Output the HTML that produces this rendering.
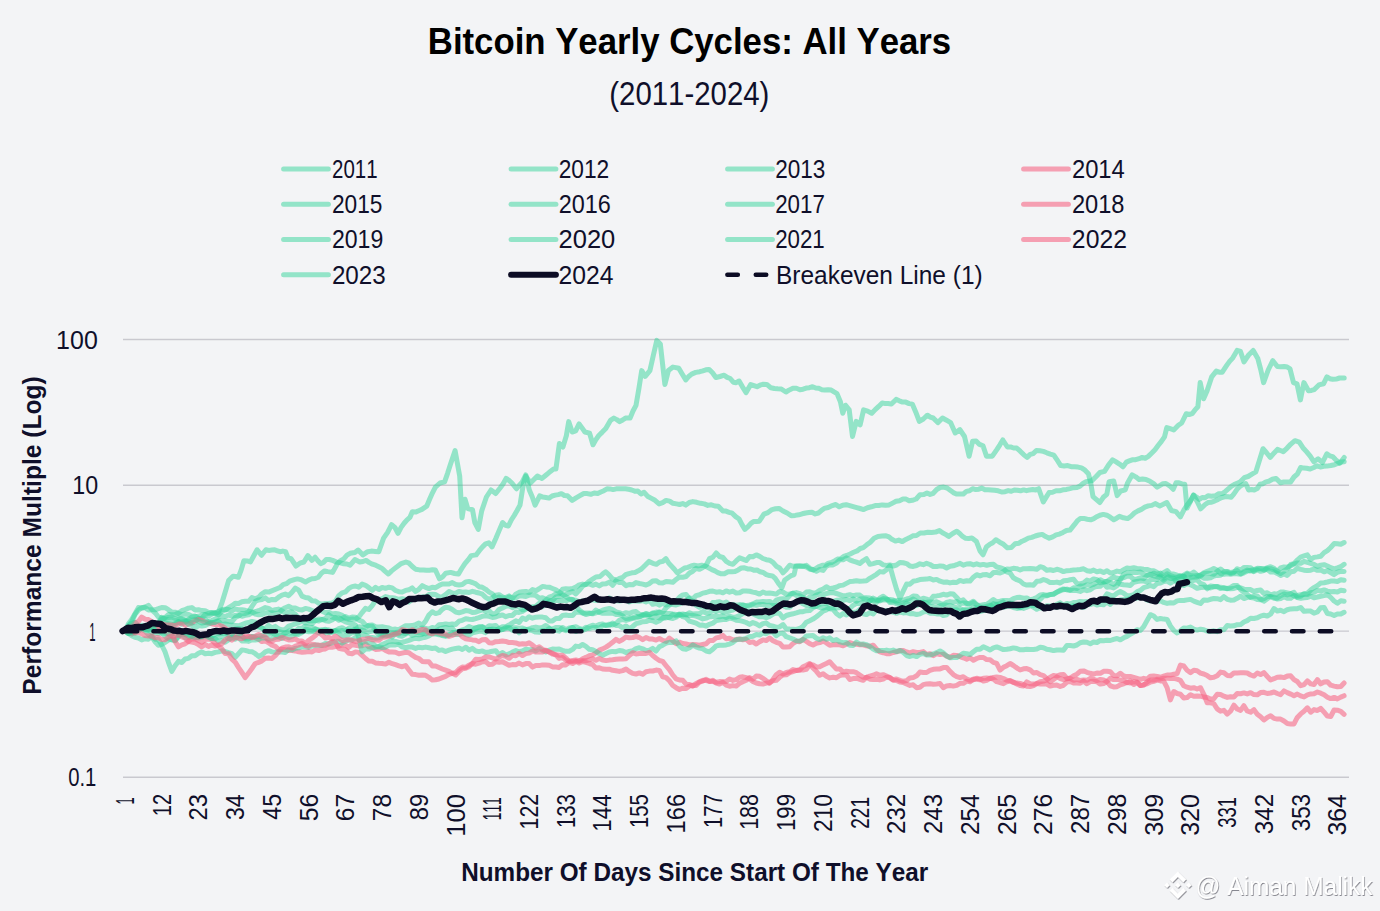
<!DOCTYPE html>
<html><head><meta charset="utf-8"><title>Bitcoin Yearly Cycles</title>
<style>html,body{margin:0;padding:0;background:#f3f4f6;}svg{display:block;font-family:"Liberation Sans",sans-serif;font-kerning:none;font-feature-settings:"kern" 0;}</style>
</head><body>
<svg width="1380" height="911" viewBox="0 0 1380 911">
<rect width="1380" height="911" fill="#f3f4f6"/>
<line x1="123" y1="339.5" x2="1349" y2="339.5" stroke="#c9c9cf" stroke-width="1.4"/><line x1="123" y1="485.3" x2="1349" y2="485.3" stroke="#c9c9cf" stroke-width="1.4"/><line x1="123" y1="631.1" x2="1349" y2="631.1" stroke="#c9c9cf" stroke-width="1.4"/><line x1="123" y1="777.2" x2="1349" y2="777.2" stroke="#c9c9cf" stroke-width="1.4"/>
<polyline points="125.0,631.1 128.3,629.3 131.7,630.0 135.0,631.8 138.4,631.1 141.7,628.3 145.0,627.6 148.4,627.7 151.7,628.8 155.1,626.2 158.4,623.2 161.7,623.3 165.1,623.0 168.4,624.5 171.8,625.1 175.1,623.4 178.4,621.5 181.8,624.2 185.1,622.3 188.5,619.5 191.8,617.1 195.1,616.7 198.5,616.3 201.8,615.2 205.2,614.5 208.5,613.4 211.8,613.0 215.2,613.3 218.5,612.1 222.0,602.5 225.3,591.7 228.6,580.6 233.0,576.2 235.7,576.5 238.4,577.3 241.2,569.9 243.9,560.8 247.2,560.9 250.5,561.9 253.8,555.8 257.1,549.8 261.5,555.3 265.9,549.8 268.8,550.4 271.8,550.1 274.7,549.8 277.4,550.8 280.0,551.7 282.8,551.1 285.6,551.7 288.0,558.0 291.2,558.8 296.0,566.0 299.9,563.2 303.9,562.0 307.9,555.6 311.9,560.4 315.1,557.2 317.9,560.7 320.6,563.6 323.4,562.5 326.2,559.6 329.4,559.5 332.6,560.4 336.6,562.1 340.6,562.8 343.8,563.8 346.9,564.0 350.1,565.2 354.9,559.6 359.7,562.0 362.9,561.5 366.1,560.4 369.3,562.6 372.4,564.2 375.6,565.2 378.8,566.7 382.0,568.4 385.2,571.4 388.4,574.0 391.6,570.9 394.8,568.4 398.0,566.0 401.2,563.6 405.9,562.0 409.1,563.2 412.3,566.5 415.5,569.2 419.5,569.9 423.5,570.0 426.5,570.3 429.4,570.2 432.4,569.8 435.4,570.0 439.4,578.8 442.6,576.8 445.8,573.2 450.6,572.4 454.6,573.5 458.5,574.0 461.7,568.5 464.9,563.6 468.1,559.9 471.3,555.6 476.1,554.9 479.3,550.7 482.5,546.9 485.6,543.9 488.8,542.9 492.0,546.9 495.7,538.7 499.1,530.6 502.6,522.5 505.5,525.3 508.4,526.0 511.3,520.0 514.2,515.5 517.1,510.5 520.0,505.1 523.5,483.0 525.8,476.1 530.4,483.0 533.9,479.5 537.4,476.1 542.0,478.4 545.5,475.5 549.0,472.6 553.6,469.1 555.9,469.1 559.4,443.6 562.9,447.1 566.4,435.5 568.7,421.6 572.2,432.0 575.7,430.9 579.1,423.9 582.0,427.9 584.9,432.0 589.6,433.2 593.0,444.8 595.9,439.6 598.8,435.5 602.3,432.1 605.8,428.5 610.4,420.4 613.9,418.1 616.8,419.6 619.7,421.6 622.6,420.0 625.5,418.1 630.1,418.1 633.0,411.0 636.0,405.4 638.9,388.5 641.7,370.6 645.2,376.4 649.9,370.6 653.3,355.5 656.8,340.4 660.3,343.9 664.9,384.5 668.4,370.6 673.0,367.1 675.9,367.6 678.8,368.3 682.3,374.2 685.8,379.9 688.7,376.5 691.6,374.1 695.7,372.4 699.7,371.7 702.8,370.8 705.9,369.8 709.0,369.4 712.5,372.8 715.9,377.5 720.0,376.5 724.1,375.2 727.2,377.4 730.2,378.5 733.3,382.2 736.2,382.7 739.1,381.0 742.6,387.1 746.1,392.6 750.7,384.5 753.9,385.6 757.0,386.7 759.9,385.2 762.8,384.3 766.8,384.4 770.9,387.8 774.4,388.5 777.8,388.8 781.3,389.0 785.9,392.0 789.4,389.9 792.9,388.3 796.4,388.3 799.9,389.7 803.1,389.2 806.2,388.1 809.4,387.7 812.6,386.7 815.7,388.0 818.8,388.3 821.9,389.7 825.0,390.0 828.1,389.7 831.2,390.1 834.1,391.9 837.0,393.6 840.4,401.7 842.8,413.3 845.5,405.2 849.2,409.9 852.5,436.5 856.2,421.4 860.1,424.9 863.6,409.9 867.7,411.1 871.7,413.3 875.2,409.6 878.7,406.4 882.2,402.9 885.3,403.6 888.3,403.5 891.4,404.1 896.1,399.4 899.3,400.8 902.6,402.1 905.8,402.1 909.1,403.6 912.3,404.1 915.8,412.2 919.3,421.4 923.3,419.0 927.4,415.2 930.3,417.1 933.2,418.0 937.8,422.6 942.5,418.0 946.5,420.2 950.6,422.6 955.2,433.0 959.9,429.6 964.5,436.5 969.1,456.2 972.6,441.2 976.1,441.0 979.5,444.4 983.0,445.8 986.5,456.2 989.4,456.2 992.3,456.2 997.0,449.3 999.9,444.8 1002.8,440.0 1007.4,447.0 1010.5,446.9 1013.6,448.0 1016.7,448.1 1020.2,451.2 1023.6,454.6 1027.1,457.4 1030.2,454.4 1033.3,453.6 1036.4,450.4 1039.9,450.7 1043.3,451.4 1046.8,452.8 1050.3,454.1 1053.8,455.2 1057.2,460.2 1060.7,465.6 1064.2,465.9 1067.7,465.6 1071.2,466.7 1074.6,466.8 1078.0,467.1 1081.5,467.9 1085.0,470.2 1088.4,473.7 1090.7,482.9 1093.0,496.7 1096.5,499.7 1099.9,502.5 1103.3,497.3 1106.8,494.4 1109.1,481.7 1113.7,481.0 1117.2,495.6 1120.7,491.0 1125.3,489.8 1127.6,482.9 1132.2,474.8 1135.7,476.8 1139.1,479.4 1142.5,479.0 1146.0,479.4 1150.0,481.3 1153.6,483.6 1157.2,487.1 1160.1,485.4 1163.0,483.8 1165.9,483.5 1169.6,485.8 1173.2,489.3 1176.1,482.8 1179.0,482.8 1181.9,483.9 1184.8,484.2 1187.0,508.1 1190.2,501.9 1193.5,495.1 1197.1,501.5 1200.7,508.8 1205.1,504.5 1208.0,502.6 1210.9,502.3 1214.5,501.1 1218.1,499.4 1221.8,497.5 1225.4,496.5 1228.3,496.8 1231.2,497.2 1234.1,493.6 1237.0,489.3 1239.9,486.4 1242.8,484.6 1245.7,483.5 1248.6,490.0 1251.5,489.5 1254.3,490.0 1257.2,488.6 1260.1,484.2 1263.0,483.7 1265.9,481.9 1268.8,481.3 1272.4,479.3 1276.1,478.4 1280.4,482.8 1283.8,482.0 1287.2,481.9 1290.6,482.0 1294.0,477.0 1297.3,474.1 1300.7,467.5 1303.6,468.1 1306.5,468.3 1310.2,469.0 1313.8,467.5 1317.0,465.8 1320.3,467.0 1323.5,466.2 1326.8,466.1 1330.7,465.5 1334.5,464.7 1338.4,463.2 1341.3,461.9 1344.2,461.7" fill="none" stroke="rgba(52,211,153,0.5)" stroke-width="5" stroke-linejoin="round" stroke-linecap="round"/><polyline points="125.0,631.1 128.3,624.0 131.7,619.5 135.0,613.7 138.4,607.6 141.7,608.0 145.0,607.0 148.4,605.4 151.7,609.4 155.1,609.8 158.4,608.7 161.7,607.5 165.1,607.7 168.4,609.7 171.8,612.1 175.1,612.2 178.4,613.5 181.8,614.6 185.1,614.0 188.5,614.5 191.8,616.3 195.1,616.1 198.5,618.2 201.8,619.1 205.2,619.5 208.5,622.3 211.8,623.1 215.2,621.9 218.5,621.4 221.9,624.7 225.2,623.9 228.5,624.6 231.9,625.1 235.2,625.4 238.6,625.8 241.9,624.6 245.2,623.3 248.6,622.5 251.9,621.4 255.3,622.2 258.6,627.0 261.9,627.8 265.3,630.9 268.6,631.5 272.0,632.6 275.3,634.5 278.6,636.9 282.0,638.4 285.3,636.4 288.7,637.7 292.0,636.3 295.3,634.3 298.7,634.4 302.0,632.5 305.4,629.2 308.7,630.0 312.0,630.6 315.4,629.2 318.7,630.5 322.1,631.1 325.4,629.2 328.7,631.9 332.1,632.3 335.4,630.4 338.8,631.1 342.1,630.5 345.4,631.2 348.8,628.2 352.1,629.0 355.5,629.7 358.8,630.0 362.1,630.1 365.5,631.4 368.8,631.7 372.2,631.1 375.5,630.1 378.8,632.2 382.2,634.1 385.5,634.9 388.9,635.5 392.2,637.0 395.5,633.3 398.9,634.1 402.2,630.4 405.6,631.1 408.9,632.6 412.2,635.4 415.6,634.3 418.9,634.8 422.3,634.4 425.6,630.5 428.9,631.5 432.3,631.2 435.6,631.0 439.0,629.2 442.3,628.2 445.6,627.4 449.0,628.5 452.3,628.1 455.7,632.8 459.0,631.2 462.3,629.8 465.7,628.8 469.0,626.5 472.4,628.0 475.7,628.9 479.0,626.6 482.4,626.6 485.7,628.3 489.1,625.8 492.4,625.9 495.7,625.4 499.1,629.0 502.4,629.5 505.8,628.6 509.1,627.5 512.4,630.3 515.8,629.4 519.1,632.9 522.5,630.1 525.8,629.6 529.1,629.0 532.5,627.7 535.8,627.1 539.2,628.0 542.5,627.4 545.8,625.5 549.2,628.1 552.5,630.9 555.9,630.3 559.2,631.2 562.5,627.5 565.9,629.6 569.2,627.9 572.6,627.4 575.9,631.4 579.2,629.8 582.6,630.3 585.9,629.1 589.3,626.6 592.6,625.2 595.9,626.1 599.3,624.5 602.6,624.0 606.0,625.6 609.3,625.3 612.6,623.1 616.0,625.5 619.3,625.6 622.7,627.8 626.0,626.0 629.3,628.7 632.7,626.5 636.0,623.6 639.4,622.8 642.7,621.7 646.0,621.6 649.4,620.2 652.7,620.7 656.1,622.3 659.4,620.8 662.7,618.0 666.1,616.9 669.4,617.7 672.8,618.5 676.1,617.2 679.4,614.8 682.8,614.0 686.1,614.7 689.5,612.8 692.8,614.1 696.1,613.7 699.5,613.4 702.8,611.6 706.2,613.0 709.5,612.9 712.8,610.2 716.2,611.3 719.5,610.4 722.9,611.9 726.2,611.9 729.5,610.7 732.9,610.1 736.2,608.4 739.6,606.1 742.9,605.3 746.2,605.7 749.6,604.9 752.9,603.9 756.3,602.1 759.6,602.0 762.9,601.4 766.3,601.8 769.6,601.4 773.0,603.8 776.3,600.2 779.6,599.0 783.0,598.8 786.3,599.2 789.7,595.6 793.0,593.1 796.3,592.6 799.7,593.7 803.0,595.0 806.4,592.0 809.7,591.7 813.0,593.1 816.4,592.6 819.7,590.4 823.1,589.1 826.4,586.8 829.7,588.6 833.1,588.0 836.4,587.2 839.8,585.6 843.1,585.1 846.4,583.4 849.8,581.6 853.1,581.3 856.5,580.7 859.8,581.2 863.1,581.1 866.5,580.7 869.8,578.3 873.2,576.3 876.5,574.3 879.8,571.6 883.2,572.1 886.5,569.8 889.9,565.9 893.2,577.9 896.5,589.1 899.9,598.2 903.2,591.1 906.6,584.1 909.9,584.2 913.2,581.3 916.6,580.6 919.9,579.6 923.3,579.3 926.6,579.1 929.9,578.5 933.3,580.0 936.6,579.4 940.0,581.2 943.3,582.2 946.6,581.9 950.0,582.9 953.3,582.3 956.7,582.5 960.0,580.4 963.3,581.5 966.7,580.8 970.0,581.1 973.4,577.2 976.7,574.7 980.0,575.9 983.4,574.7 986.7,574.6 990.1,575.8 993.4,572.6 996.7,572.5 1000.1,573.0 1003.4,571.6 1006.8,569.1 1010.1,569.2 1013.4,568.3 1016.8,568.7 1020.1,570.0 1023.5,568.7 1026.8,568.8 1030.1,568.4 1033.5,568.8 1036.8,569.3 1040.2,566.7 1043.5,567.7 1046.8,570.3 1050.2,569.7 1053.5,570.5 1056.9,569.3 1060.2,570.1 1063.5,571.6 1066.9,570.7 1070.2,570.4 1073.6,570.0 1076.9,569.8 1080.2,569.5 1083.6,568.8 1086.9,570.7 1090.3,571.3 1093.6,570.1 1096.9,571.8 1100.3,571.0 1103.6,572.6 1107.0,570.7 1110.3,573.1 1113.6,572.5 1117.0,571.1 1120.3,571.8 1123.7,569.7 1127.0,568.0 1130.3,568.4 1133.7,567.7 1137.0,568.4 1140.4,568.7 1143.7,569.2 1147.0,569.4 1150.4,570.6 1153.7,570.7 1157.1,572.5 1160.4,574.9 1163.7,572.6 1167.1,570.6 1170.4,574.0 1173.8,574.1 1177.1,575.2 1180.4,575.9 1183.8,576.0 1187.1,579.1 1190.5,577.6 1193.8,577.3 1197.1,577.0 1200.5,574.8 1203.8,573.6 1207.2,573.3 1210.5,573.5 1213.8,574.3 1217.2,571.3 1220.5,569.0 1223.9,571.8 1227.2,571.4 1230.5,572.6 1233.9,571.8 1237.2,570.5 1240.6,573.8 1243.9,571.7 1247.2,570.1 1250.6,571.0 1253.9,570.9 1257.3,568.2 1260.6,568.5 1263.9,569.9 1267.3,567.6 1270.6,566.8 1274.0,568.3 1277.3,571.5 1280.6,567.9 1284.0,567.0 1287.3,567.2 1290.7,565.9 1294.0,564.0 1297.3,562.9 1300.7,563.3 1304.0,561.3 1307.4,562.3 1310.7,563.3 1314.0,564.3 1317.4,566.4 1320.7,565.2 1324.1,564.7 1327.4,566.0 1330.7,567.7 1334.1,568.9 1337.4,567.9 1340.8,566.7 1344.1,564.3" fill="none" stroke="rgba(52,211,153,0.5)" stroke-width="5" stroke-linejoin="round" stroke-linecap="round"/><polyline points="125.0,631.1 128.3,630.6 131.7,632.7 135.0,631.1 138.4,627.9 141.7,628.0 145.0,628.7 148.4,628.9 151.7,629.5 155.1,629.0 158.4,627.7 161.7,626.2 165.1,625.1 168.4,623.7 171.8,624.4 175.1,624.7 178.4,621.9 181.8,622.2 185.1,621.0 188.5,621.6 191.8,622.8 195.1,622.4 198.5,618.4 201.8,618.2 205.2,614.5 208.5,616.1 211.8,614.1 215.2,612.9 218.5,614.9 221.9,611.1 225.2,610.2 228.5,607.6 231.9,605.7 235.2,603.3 238.6,603.4 241.9,601.8 245.2,601.3 248.6,601.3 251.9,597.6 255.3,598.8 258.6,597.4 261.9,593.8 265.3,591.7 268.6,592.1 280.0,587.5 283.2,584.7 286.4,583.7 289.6,581.2 294.3,579.6 297.5,578.9 300.7,579.6 305.5,582.0 308.7,580.1 311.9,578.8 315.1,578.5 318.3,577.2 321.4,573.2 324.6,570.9 327.8,571.6 332.6,572.4 337.4,563.6 340.6,560.7 343.8,558.8 347.0,555.1 350.1,553.3 354.9,552.5 358.1,550.1 362.9,554.9 367.7,551.7 371.4,551.1 375.1,551.4 378.8,551.7 383.6,538.1 387.6,532.4 391.6,524.6 394.8,527.3 398.0,533.3 401.1,527.4 404.3,523.0 407.1,519.8 409.9,517.4 412.3,511.8 415.5,512.1 418.7,510.7 421.9,509.4 426.7,506.2 429.6,499.3 432.5,492.8 435.4,487.1 440.0,483.0 444.6,481.9 447.5,473.6 450.4,464.5 455.1,450.6 459.7,476.1 462.0,517.8 465.0,499.3 467.8,508.6 472.5,509.7 474.8,522.5 478.3,529.4 481.7,510.9 486.4,497.0 491.0,490.0 495.7,493.5 500.3,487.7 503.2,483.7 506.1,478.4 509.0,480.4 511.9,483.0 516.5,488.8 519.4,485.1 522.3,481.9 525.8,474.9 529.3,490.0 532.2,496.7 535.1,505.1 539.7,495.8 542.8,497.1 545.9,497.5 549.0,498.1 552.1,496.0 555.2,495.1 558.3,494.6 561.4,493.7 564.4,495.5 567.5,495.8 572.2,500.4 576.1,497.9 579.9,495.7 583.8,493.5 587.3,493.6 590.8,494.3 594.2,493.0 597.7,493.5 600.8,492.0 603.9,490.7 607.0,488.8 610.1,488.9 613.1,489.6 616.2,488.8 619.3,488.7 622.4,488.8 625.5,488.8 628.6,489.3 631.7,490.0 634.8,491.2 637.9,491.1 641.0,494.0 644.1,492.3 647.5,496.2 651.0,498.1 655.0,500.3 659.1,503.9 662.6,502.7 666.1,500.4 669.6,501.1 673.0,503.3 676.5,503.9 679.6,504.5 682.7,503.6 685.8,505.1 689.3,502.5 692.8,501.6 696.6,502.3 700.5,503.3 704.3,503.9 707.8,505.4 711.3,504.8 714.8,506.0 718.3,506.2 722.9,510.9 726.0,511.1 729.1,512.3 732.2,513.2 735.7,516.6 739.1,519.0 742.0,524.6 744.9,529.4 747.8,526.9 750.7,523.6 753.6,521.4 756.4,521.4 759.3,521.2 763.9,514.2 768.0,512.6 772.0,509.6 775.5,508.8 779.0,508.4 783.0,511.0 787.1,513.0 791.2,515.7 795.2,515.4 798.7,514.8 802.2,513.8 805.7,513.0 808.9,512.6 812.0,512.3 815.2,513.9 818.4,513.0 821.3,510.6 824.2,508.4 828.2,507.5 832.3,505.6 835.8,504.5 839.3,506.8 842.7,505.2 846.2,504.7 849.7,505.6 853.2,506.6 856.7,507.6 860.1,508.5 863.6,509.6 867.5,507.7 871.3,506.8 875.2,505.6 878.7,505.5 882.2,504.9 885.6,505.3 889.1,504.9 892.6,503.1 896.0,501.3 899.5,500.7 903.0,499.1 906.1,499.1 909.2,500.8 912.3,500.3 916.2,499.0 920.0,494.7 923.9,494.5 927.0,493.0 930.1,494.4 933.2,493.3 936.7,489.5 940.1,487.5 943.6,487.1 947.1,488.0 950.2,490.3 953.3,492.6 956.4,494.0 959.8,494.1 963.3,494.0 966.4,491.4 969.5,490.8 972.6,488.7 975.7,489.6 978.8,489.2 981.9,488.1 985.0,489.8 988.1,489.8 991.2,489.9 994.7,490.3 998.2,490.8 1001.6,492.0 1005.1,491.7 1008.2,490.6 1011.3,491.3 1014.4,490.0 1017.4,490.2 1020.5,490.8 1023.6,489.9 1026.6,490.7 1029.6,489.9 1032.7,489.5 1035.7,489.9 1038.7,488.7 1043.3,501.9 1046.2,497.1 1049.1,492.6 1052.6,492.2 1056.0,490.8 1059.5,490.8 1063.0,489.8 1066.5,489.4 1070.0,488.6 1073.4,487.7 1076.9,487.5 1080.0,486.1 1083.0,483.5 1086.1,481.7 1089.0,481.1 1091.9,480.6 1095.9,476.7 1099.9,472.5 1104.5,471.4 1108.5,465.1 1112.6,459.8 1116.1,461.9 1119.5,464.1 1123.0,466.8 1126.4,462.1 1129.3,460.9 1132.2,459.8 1135.7,459.7 1139.1,458.7 1142.2,457.4 1145.2,458.3 1148.3,456.4 1151.8,453.0 1155.2,449.5 1158.3,445.3 1161.4,441.4 1164.5,436.8 1166.8,427.6 1170.2,428.7 1173.7,429.9 1178.3,425.3 1181.7,423.0 1186.3,413.7 1189.2,414.5 1192.1,413.7 1195.0,409.9 1197.9,406.8 1200.2,382.6 1203.6,398.8 1207.1,390.7 1211.7,376.9 1216.3,371.1 1219.2,372.2 1222.1,372.3 1226.7,365.4 1229.6,361.4 1232.4,358.4 1237.1,350.4 1240.5,351.5 1244.0,361.9 1248.6,355.0 1253.2,350.4 1257.8,358.4 1260.7,369.5 1263.6,382.6 1268.2,370.0 1272.8,360.7 1277.4,366.5 1280.8,366.7 1284.3,366.5 1287.2,367.0 1290.0,368.8 1293.5,382.6 1297.0,383.8 1300.4,399.9 1303.9,382.6 1308.5,390.7 1311.4,390.4 1314.3,389.6 1318.9,384.9 1323.5,383.8 1326.9,376.9 1329.8,378.7 1332.7,379.2 1336.2,379.1 1339.6,378.0 1344.2,378.0" fill="none" stroke="rgba(52,211,153,0.5)" stroke-width="5" stroke-linejoin="round" stroke-linecap="round"/><polyline points="125.0,631.1 128.3,632.7 131.7,634.0 135.0,631.4 138.4,628.0 141.7,627.7 145.0,628.8 148.4,628.4 151.7,626.0 155.1,625.1 158.4,626.7 161.7,623.8 165.1,624.7 168.4,624.9 171.8,625.0 175.1,625.5 178.4,623.9 181.8,623.0 185.1,625.2 188.5,623.9 191.8,623.0 195.1,620.5 198.5,619.6 201.8,620.5 205.2,622.3 208.5,623.1 211.8,623.8 215.2,624.5 218.5,624.8 221.9,626.2 225.2,628.2 228.5,632.2 231.9,634.4 235.2,634.1 238.6,634.3 241.9,636.2 245.2,637.8 248.6,636.8 251.9,636.5 255.3,637.7 258.6,639.3 261.9,641.6 265.3,641.1 268.6,642.7 272.0,645.2 275.3,646.3 278.6,649.6 282.0,649.3 285.3,649.8 288.7,650.6 292.0,650.5 295.3,650.9 298.7,651.8 302.0,652.2 305.4,651.9 308.7,651.6 312.0,651.9 315.4,649.9 318.7,650.6 322.1,649.3 325.4,648.9 328.7,647.1 332.1,647.2 335.4,646.5 338.8,646.1 342.1,644.8 345.4,645.0 348.8,647.4 352.1,644.5 355.5,645.2 358.8,645.9 362.1,645.7 365.5,644.0 368.8,646.9 372.2,647.5 375.5,649.4 378.8,649.2 382.2,648.4 385.5,650.4 388.9,651.9 392.2,652.0 395.5,652.2 398.9,653.8 402.2,653.1 405.6,652.3 408.9,652.8 412.2,655.2 415.6,657.4 418.9,658.5 422.3,661.4 425.6,661.8 428.9,661.7 432.3,666.0 435.6,665.9 439.0,667.5 442.3,669.0 445.6,670.1 449.0,671.3 452.3,673.3 455.7,675.0 459.0,671.5 462.3,668.8 465.7,668.3 469.0,666.8 472.4,663.5 475.7,664.2 479.0,663.2 482.4,661.8 485.7,661.6 489.1,664.6 492.4,664.3 495.7,661.8 499.1,662.2 502.4,661.7 505.8,663.5 509.1,665.3 512.4,664.6 515.8,664.7 519.1,663.1 522.5,664.9 525.8,663.6 529.1,663.5 532.5,667.1 535.8,665.5 539.2,665.6 542.5,664.9 545.8,665.0 549.2,665.2 552.5,666.9 555.9,667.0 559.2,667.4 562.5,664.8 565.9,664.9 569.2,662.2 572.6,663.5 575.9,661.6 579.2,661.3 582.6,658.8 585.9,657.4 589.3,655.7 592.6,654.8 595.9,652.9 599.3,650.2 602.6,648.9 606.0,647.1 609.3,644.9 612.6,642.3 616.0,639.3 619.3,641.4 622.7,639.5 626.0,637.1 629.3,637.8 632.7,637.5 636.0,636.5 639.4,637.5 642.7,639.6 646.0,637.5 649.4,639.0 652.7,639.1 656.1,640.1 659.4,638.5 662.7,640.4 666.1,641.4 669.4,638.1 672.8,640.8 676.1,643.7 679.4,642.2 682.8,643.5 686.1,644.0 689.5,645.0 692.8,644.5 696.1,644.8 699.5,645.3 702.8,644.5 706.2,643.7 709.5,640.4 712.8,640.6 716.2,637.9 719.5,637.3 722.9,635.4 726.2,638.8 729.5,638.2 732.9,639.9 736.2,639.5 739.6,639.0 742.9,639.7 746.2,639.3 749.6,642.5 752.9,641.9 756.3,644.0 759.6,641.7 762.9,639.9 766.3,640.5 769.6,638.0 773.0,640.7 776.3,642.3 779.6,643.3 783.0,647.0 786.3,647.0 789.7,646.7 793.0,643.5 796.3,641.3 799.7,641.7 803.0,639.4 806.4,641.4 809.7,643.6 813.0,645.0 816.4,643.2 819.7,642.6 823.1,641.1 826.4,642.9 829.7,645.2 833.1,644.7 836.4,644.6 839.8,644.8 843.1,645.8 846.4,644.2 849.8,642.6 853.1,643.6 856.5,644.3 859.8,644.8 863.1,644.8 866.5,645.8 869.8,646.4 873.2,645.2 876.5,649.1 879.8,651.9 883.2,652.7 886.5,653.7 889.9,653.7 893.2,652.5 896.5,651.8 899.9,650.6 903.2,650.5 906.6,652.0 909.9,652.9 913.2,651.7 916.6,652.4 919.9,652.4 923.3,651.6 926.6,654.4 929.9,653.7 933.3,655.7 936.6,653.6 940.0,654.6 943.3,654.1 946.6,656.2 950.0,657.4 953.3,655.3 956.7,655.4 960.0,656.6 963.3,657.8 966.7,659.2 970.0,657.8 973.4,660.3 976.7,658.5 980.0,657.4 983.4,657.5 986.7,659.6 990.1,659.8 993.4,662.4 996.7,663.4 1000.1,670.1 1003.4,667.3 1006.8,665.7 1010.1,663.5 1013.4,665.5 1016.8,667.9 1020.1,670.0 1023.5,668.8 1026.8,668.6 1030.1,669.8 1033.5,673.0 1036.8,672.5 1040.2,674.7 1043.5,675.6 1046.8,678.6 1050.2,681.7 1053.5,679.4 1056.9,676.9 1060.2,678.6 1063.5,679.6 1066.9,678.9 1070.2,678.0 1073.6,675.8 1076.9,674.2 1080.2,671.3 1083.6,670.9 1086.9,672.3 1090.3,673.3 1093.6,674.1 1096.9,673.0 1100.3,673.3 1103.6,671.3 1107.0,671.2 1110.3,671.7 1113.6,675.4 1117.0,675.8 1120.3,673.2 1123.7,675.9 1127.0,676.6 1130.3,676.4 1133.7,677.3 1137.0,678.3 1140.4,679.3 1143.7,678.3 1147.0,679.2 1150.4,676.2 1153.7,676.0 1157.1,676.5 1160.4,677.3 1163.7,676.2 1167.1,675.0 1170.4,675.1 1173.8,674.1 1177.1,673.6 1180.4,665.1 1183.8,666.0 1187.1,670.3 1190.5,672.6 1193.8,670.3 1197.1,670.8 1200.5,673.1 1203.8,674.0 1207.2,675.6 1210.5,677.8 1213.8,677.3 1217.2,675.7 1220.5,672.1 1223.9,672.8 1227.2,675.4 1230.5,675.8 1233.9,673.0 1237.2,672.9 1240.6,672.8 1243.9,672.7 1247.2,673.0 1250.6,675.0 1253.9,676.1 1257.3,673.0 1260.6,674.6 1263.9,672.6 1267.3,676.5 1270.6,680.0 1274.0,678.7 1277.3,677.2 1280.6,677.0 1284.0,677.6 1287.3,676.1 1290.7,675.8 1294.0,679.6 1297.3,681.5 1300.7,685.7 1304.0,684.6 1307.4,680.9 1310.7,683.9 1314.0,684.5 1317.4,679.6 1320.7,683.9 1324.1,682.0 1327.4,681.7 1330.7,685.2 1334.1,686.1 1337.4,686.8 1340.8,686.5 1344.1,683.0" fill="none" stroke="rgba(246,101,133,0.6)" stroke-width="5" stroke-linejoin="round" stroke-linecap="round"/><polyline points="125.0,631.1 128.3,633.5 131.7,635.7 135.0,637.3 138.4,638.0 141.7,639.9 145.0,638.7 148.4,639.2 151.7,636.3 155.1,639.2 158.4,639.5 161.7,645.0 165.1,651.9 168.4,662.1 171.8,671.3 175.1,665.7 178.4,661.4 181.8,662.5 185.1,659.0 188.5,658.4 191.8,655.7 195.1,655.8 198.5,653.3 201.8,651.9 205.2,653.8 208.5,653.3 211.8,653.7 215.2,652.4 218.5,651.9 221.9,650.8 225.2,651.5 228.5,652.7 231.9,653.7 235.2,657.3 238.6,653.6 241.9,649.9 245.2,650.4 248.6,651.4 251.9,651.7 255.3,653.7 258.6,656.4 261.9,654.8 265.3,651.8 268.6,650.7 272.0,651.9 275.3,652.4 278.6,651.8 282.0,652.1 285.3,652.4 288.7,649.3 292.0,649.9 295.3,648.4 298.7,647.9 302.0,646.9 305.4,646.8 308.7,647.3 312.0,645.9 315.4,645.1 318.7,645.5 322.1,645.2 325.4,643.4 328.7,644.0 332.1,642.6 335.4,641.4 338.8,641.2 342.1,643.2 345.4,641.2 348.8,640.0 352.1,639.7 355.5,637.8 358.8,639.4 362.1,642.8 365.5,641.3 368.8,642.7 372.2,642.9 375.5,646.1 378.8,646.8 382.2,647.6 385.5,647.2 388.9,645.2 392.2,644.8 395.5,644.9 398.9,644.4 402.2,646.9 405.6,647.7 408.9,647.0 412.2,647.1 415.6,648.4 418.9,647.2 422.3,647.7 425.6,647.1 428.9,647.8 432.3,648.5 435.6,647.9 439.0,650.4 442.3,649.9 445.6,651.5 449.0,650.2 452.3,649.1 455.7,648.5 459.0,648.0 462.3,649.5 465.7,647.2 469.0,650.2 472.4,648.4 475.7,651.0 479.0,651.6 482.4,650.9 485.7,652.5 489.1,651.9 492.4,651.2 495.7,650.7 499.1,654.8 502.4,652.5 505.8,655.1 509.1,653.9 512.4,652.1 515.8,650.6 519.1,652.0 522.5,651.0 525.8,649.2 529.1,649.7 532.5,649.6 535.8,650.9 539.2,648.5 542.5,650.4 545.8,651.9 549.2,650.2 552.5,649.1 555.9,649.3 559.2,649.0 562.5,650.3 565.9,651.3 569.2,651.3 572.6,649.4 575.9,646.1 579.2,646.6 582.6,644.5 585.9,646.4 589.3,649.3 592.6,649.7 595.9,651.4 599.3,653.6 602.6,655.2 606.0,653.5 609.3,652.0 612.6,651.4 616.0,651.7 619.3,650.5 622.7,651.0 626.0,652.6 629.3,651.4 632.7,650.8 636.0,648.6 639.4,647.8 642.7,648.8 646.0,650.4 649.4,650.2 652.7,648.4 656.1,651.0 659.4,646.8 662.7,645.2 666.1,643.2 669.4,642.3 672.8,642.5 676.1,640.9 679.4,646.0 682.8,648.7 686.1,649.3 689.5,647.7 692.8,645.0 696.1,646.8 699.5,648.1 702.8,648.8 706.2,651.0 709.5,651.7 712.8,649.2 716.2,645.9 719.5,645.2 722.9,645.2 726.2,644.9 729.5,644.1 732.9,642.4 736.2,639.7 739.6,639.3 742.9,639.2 746.2,638.3 749.6,636.8 752.9,636.2 756.3,634.6 759.6,635.0 762.9,633.1 766.3,633.7 769.6,631.8 773.0,632.2 776.3,635.7 779.6,633.4 783.0,633.1 786.3,636.7 789.7,637.8 793.0,639.0 796.3,640.7 799.7,641.1 803.0,639.6 806.4,636.1 809.7,635.7 813.0,635.5 816.4,638.2 819.7,639.6 823.1,637.8 826.4,639.3 829.7,637.9 833.1,640.6 836.4,639.6 839.8,641.8 843.1,642.7 846.4,642.6 849.8,645.2 853.1,645.5 856.5,642.1 859.8,644.2 863.1,644.0 866.5,644.7 869.8,646.5 873.2,649.1 876.5,650.8 879.8,650.4 883.2,650.6 886.5,650.1 889.9,651.0 893.2,650.1 896.5,651.5 899.9,650.5 903.2,652.3 906.6,655.5 909.9,656.5 913.2,655.4 916.6,656.6 919.9,654.3 923.3,653.4 926.6,654.9 929.9,655.0 933.3,654.0 936.6,652.7 940.0,651.0 943.3,653.0 946.6,655.8 950.0,657.8 953.3,657.4 956.7,657.5 960.0,655.6 963.3,653.2 966.7,653.8 970.0,654.5 973.4,651.8 976.7,649.3 980.0,649.3 983.4,646.8 986.7,648.3 990.1,650.0 993.4,647.8 996.7,646.9 1000.1,648.2 1003.4,649.6 1006.8,649.2 1010.1,648.7 1013.4,647.9 1016.8,648.5 1020.1,649.8 1023.5,649.8 1026.8,649.3 1030.1,649.4 1033.5,649.4 1036.8,649.0 1040.2,647.2 1043.5,647.7 1046.8,649.3 1050.2,649.8 1053.5,650.6 1056.9,650.0 1060.2,650.0 1063.5,650.2 1066.9,645.5 1070.2,645.5 1073.6,646.0 1076.9,645.0 1080.2,642.7 1083.6,642.0 1086.9,642.3 1090.3,643.7 1093.6,642.0 1096.9,642.5 1100.3,640.4 1103.6,640.7 1107.0,640.3 1110.3,640.5 1113.6,639.4 1117.0,638.5 1120.3,639.8 1123.7,637.8 1127.0,636.4 1130.3,634.2 1133.7,632.3 1137.0,629.8 1140.4,630.5 1143.7,626.6 1147.0,620.6 1150.4,614.7 1153.7,616.0 1157.1,619.4 1160.4,618.5 1163.7,619.1 1167.1,619.5 1170.4,626.0 1173.8,630.5 1177.1,632.9 1180.4,630.8 1183.8,628.0 1187.1,628.2 1190.5,627.1 1193.8,629.1 1197.1,630.1 1200.5,629.2 1203.8,629.7 1207.2,631.1 1210.5,631.4 1213.8,630.8 1217.2,631.7 1220.5,629.7 1223.9,629.8 1227.2,625.6 1230.5,626.0 1233.9,625.8 1237.2,624.7 1240.6,624.6 1243.9,622.0 1247.2,620.6 1250.6,618.2 1253.9,618.5 1257.3,617.8 1260.6,616.1 1263.9,615.2 1267.3,616.0 1270.6,614.1 1274.0,608.6 1277.3,611.1 1280.6,610.3 1284.0,611.7 1287.3,609.7 1290.7,608.9 1294.0,608.7 1297.3,608.7 1300.7,607.5 1304.0,611.3 1307.4,610.9 1310.7,611.1 1314.0,613.2 1317.4,612.0 1320.7,607.8 1324.1,607.5 1327.4,613.5 1330.7,614.0 1334.1,615.5 1337.4,613.9 1340.8,614.0 1344.1,612.3" fill="none" stroke="rgba(52,211,153,0.5)" stroke-width="5" stroke-linejoin="round" stroke-linecap="round"/><polyline points="125.0,631.1 128.3,630.0 131.7,631.5 135.0,630.1 138.4,631.1 141.7,628.0 145.0,628.0 148.4,626.7 151.7,627.8 155.1,628.0 158.4,630.7 161.7,632.8 165.1,636.2 168.4,638.7 171.8,639.9 175.1,640.2 178.4,635.7 181.8,634.9 185.1,637.6 188.5,637.8 191.8,635.7 195.1,637.6 198.5,638.1 201.8,637.3 205.2,636.5 208.5,636.9 211.8,638.5 215.2,638.5 218.5,641.5 221.9,640.7 225.2,642.2 228.5,640.0 231.9,637.1 235.2,637.2 238.6,637.8 241.9,641.0 245.2,640.7 248.6,641.4 251.9,639.7 255.3,639.9 258.6,639.6 261.9,637.7 265.3,638.1 268.6,639.0 272.0,638.7 275.3,637.4 278.6,635.9 282.0,635.6 285.3,632.7 288.7,633.0 292.0,632.7 295.3,633.8 298.7,632.6 302.0,631.8 305.4,631.1 308.7,631.7 312.0,631.5 315.4,631.4 318.7,632.7 322.1,631.1 325.4,632.9 328.7,632.5 332.1,631.5 335.4,631.1 338.8,633.2 342.1,636.3 345.4,635.8 348.8,634.6 352.1,632.5 355.5,633.0 358.8,633.8 362.1,634.5 365.5,635.0 368.8,637.3 372.2,637.4 375.5,638.2 378.8,637.8 382.2,636.4 385.5,632.9 388.9,633.0 392.2,632.7 395.5,632.4 398.9,632.0 402.2,632.7 405.6,633.5 408.9,630.5 412.2,630.5 415.6,631.7 418.9,632.8 422.3,633.0 425.6,633.9 428.9,632.0 432.3,633.1 435.6,633.3 439.0,633.9 442.3,635.6 445.6,636.4 449.0,635.1 452.3,632.5 455.7,632.4 459.0,631.5 462.3,631.0 465.7,631.7 469.0,631.4 472.4,631.0 475.7,627.4 479.0,627.7 482.4,627.1 485.7,629.5 489.1,629.8 492.4,628.9 495.7,629.4 499.1,630.7 502.4,629.5 505.8,627.2 509.1,628.2 512.4,627.7 515.8,627.7 519.1,628.2 522.5,628.0 525.8,629.4 529.1,630.0 532.5,630.6 535.8,632.1 539.2,632.2 542.5,630.4 545.8,630.6 549.2,628.6 552.5,629.1 555.9,627.4 559.2,627.5 562.5,629.5 565.9,630.7 569.2,629.5 572.6,627.4 575.9,626.8 579.2,628.5 582.6,629.5 585.9,627.2 589.3,628.6 592.6,627.7 595.9,627.5 599.3,628.3 602.6,625.6 606.0,625.1 609.3,624.3 612.6,625.0 616.0,623.5 619.3,620.3 622.7,619.5 626.0,620.4 629.3,619.3 632.7,618.3 636.0,617.9 639.4,617.0 642.7,615.2 646.0,613.4 649.4,614.7 652.7,612.9 656.1,612.1 659.4,612.2 662.7,612.3 666.1,607.9 669.4,605.0 672.8,601.3 676.1,601.0 679.4,597.3 682.8,594.9 686.1,594.6 689.5,599.0 692.8,601.1 696.1,605.4 699.5,607.3 702.8,605.7 706.2,607.6 709.5,606.8 712.8,602.6 716.2,602.2 719.5,601.7 722.9,603.3 726.2,602.0 729.5,604.7 732.9,604.4 736.2,605.1 739.6,604.6 742.9,604.9 746.2,606.4 749.6,606.0 752.9,604.7 756.3,605.3 759.6,604.4 762.9,604.4 766.3,605.5 769.6,605.3 773.0,605.4 776.3,605.2 779.6,604.9 783.0,605.8 786.3,607.2 789.7,607.2 793.0,604.0 796.3,601.1 799.7,601.9 803.0,603.8 806.4,605.4 809.7,605.3 813.0,606.4 816.4,606.2 819.7,607.5 823.1,608.0 826.4,607.1 829.7,608.7 833.1,609.4 836.4,613.5 839.8,616.0 843.1,613.5 846.4,614.9 849.8,613.4 853.1,612.4 856.5,612.1 859.8,609.5 863.1,613.8 866.5,614.6 869.8,612.6 873.2,613.9 876.5,609.7 879.8,611.1 883.2,610.8 886.5,610.7 889.9,611.6 893.2,612.2 896.5,613.3 899.9,612.0 903.2,612.9 906.6,612.6 909.9,613.7 913.2,613.6 916.6,614.5 919.9,613.9 923.3,612.1 926.6,611.3 929.9,613.2 933.3,613.3 936.6,613.9 940.0,613.7 943.3,615.6 946.6,614.8 950.0,611.0 953.3,610.3 956.7,609.8 960.0,611.5 963.3,609.9 966.7,608.9 970.0,609.5 973.4,610.5 976.7,609.7 980.0,611.5 983.4,610.6 986.7,610.6 990.1,608.9 993.4,605.4 996.7,604.3 1000.1,603.3 1003.4,601.9 1006.8,605.6 1010.1,603.1 1013.4,603.8 1016.8,606.3 1020.1,607.6 1023.5,608.4 1026.8,607.1 1030.1,605.6 1033.5,607.2 1036.8,609.3 1040.2,607.8 1043.5,608.0 1046.8,607.5 1050.2,608.1 1053.5,606.5 1056.9,607.6 1060.2,606.0 1063.5,605.4 1066.9,603.4 1070.2,604.1 1073.6,602.6 1076.9,602.5 1080.2,601.5 1083.6,601.8 1086.9,601.6 1090.3,604.6 1093.6,603.5 1096.9,605.0 1100.3,604.3 1103.6,604.7 1107.0,602.1 1110.3,604.3 1113.6,600.6 1117.0,602.0 1120.3,599.7 1123.7,599.4 1127.0,599.8 1130.3,598.3 1133.7,598.5 1137.0,598.1 1140.4,596.7 1143.7,597.5 1147.0,600.1 1150.4,600.8 1153.7,601.0 1157.1,601.3 1160.4,600.8 1163.7,602.4 1167.1,603.4 1170.4,602.7 1173.8,603.0 1177.1,600.9 1180.4,600.4 1183.8,600.5 1187.1,599.9 1190.5,599.4 1193.8,601.1 1197.1,602.3 1200.5,603.5 1203.8,599.9 1207.2,600.3 1210.5,599.3 1213.8,598.5 1217.2,598.7 1220.5,599.7 1223.9,596.7 1227.2,599.3 1230.5,600.2 1233.9,600.0 1237.2,598.3 1240.6,596.2 1243.9,598.6 1247.2,597.3 1250.6,596.9 1253.9,596.3 1257.3,596.0 1260.6,599.1 1263.9,601.2 1267.3,598.7 1270.6,596.6 1274.0,598.2 1277.3,597.9 1280.6,595.7 1284.0,594.0 1287.3,594.9 1290.7,593.9 1294.0,592.4 1297.3,597.0 1300.7,596.4 1304.0,593.6 1307.4,593.1 1310.7,590.1 1314.0,587.6 1317.4,585.6 1320.7,583.0 1324.1,582.7 1327.4,582.0 1330.7,581.1 1334.1,581.1 1337.4,581.4 1340.8,579.7 1344.1,580.3" fill="none" stroke="rgba(52,211,153,0.5)" stroke-width="5" stroke-linejoin="round" stroke-linecap="round"/><polyline points="125.0,631.1 128.3,625.9 131.7,623.3 135.0,622.2 138.4,625.7 141.7,629.7 145.0,631.0 148.4,634.4 151.7,636.9 155.1,641.7 158.4,645.2 161.7,644.4 165.1,642.3 168.4,640.1 171.8,639.2 175.1,640.8 178.4,636.9 181.8,631.6 185.1,634.3 188.5,636.4 191.8,637.4 195.1,637.9 198.5,637.1 201.8,636.4 205.2,634.4 208.5,636.1 211.8,636.4 215.2,633.8 218.5,633.7 221.9,633.4 225.2,633.0 228.5,635.0 231.9,635.5 235.2,628.9 238.6,628.4 241.9,628.9 245.2,629.8 248.6,629.8 251.9,625.9 255.3,626.8 258.6,626.4 261.9,628.3 265.3,628.5 268.6,625.4 272.0,628.0 275.3,626.4 278.6,628.8 282.0,629.9 285.3,629.4 288.7,626.1 292.0,625.0 295.3,623.9 298.7,622.6 302.0,621.3 305.4,623.0 308.7,622.7 312.0,623.7 315.4,620.7 318.7,619.0 322.1,619.5 325.4,620.7 328.7,621.3 332.1,620.0 335.4,617.7 338.8,620.2 342.1,618.5 345.4,616.6 348.8,618.1 352.1,617.0 355.5,617.3 358.8,620.2 362.1,621.3 365.5,625.0 368.8,626.2 372.2,626.2 375.5,631.3 378.8,634.3 382.2,635.4 385.5,636.1 388.9,634.7 392.2,634.6 395.5,633.4 398.9,635.7 402.2,636.2 405.6,634.1 408.9,631.8 412.2,630.9 415.6,629.3 418.9,628.7 422.3,628.0 425.6,628.5 428.9,629.3 432.3,627.4 435.6,628.3 439.0,624.7 442.3,624.6 445.6,623.9 449.0,624.5 452.3,624.1 455.7,624.4 459.0,621.2 462.3,620.3 465.7,618.8 469.0,619.3 472.4,619.5 475.7,618.6 479.0,617.6 482.4,616.2 485.7,615.8 489.1,616.4 492.4,617.4 495.7,617.0 499.1,615.7 502.4,614.9 505.8,616.7 509.1,615.5 512.4,615.4 515.8,612.1 519.1,612.4 522.5,611.4 525.8,609.2 529.1,607.7 532.5,607.6 535.8,607.1 539.2,607.1 542.5,606.8 545.8,604.5 549.2,601.3 552.5,600.4 555.9,596.9 559.2,596.3 562.5,595.6 565.9,594.4 569.2,592.9 572.6,591.5 575.9,593.9 579.2,590.3 582.6,586.2 585.9,584.1 589.3,581.3 592.6,579.1 595.9,577.0 600.0,576.5 602.9,573.8 605.7,571.8 608.8,574.6 612.0,578.3 615.1,580.3 618.9,578.7 622.6,577.5 625.7,574.7 628.9,573.6 632.0,572.8 635.1,572.4 638.3,570.8 641.4,569.0 645.2,565.3 649.0,561.4 652.8,563.3 656.5,564.3 659.6,562.0 662.8,561.4 665.9,558.6 668.8,563.3 671.6,566.2 674.4,569.2 677.2,572.8 681.0,570.3 684.8,568.0 687.9,567.4 691.1,566.0 694.2,565.2 698.0,565.9 701.7,565.2 705.5,566.2 708.6,567.8 711.8,569.6 714.9,570.9 717.8,572.6 720.6,573.7 724.4,573.7 728.1,571.8 731.9,571.8 735.0,571.5 738.2,569.9 741.3,568.0 744.4,567.8 747.6,568.9 750.7,569.0 753.8,570.2 757.0,570.0 760.1,571.8 763.3,572.5 766.4,574.6 769.6,575.6 772.4,575.9 775.2,578.4 779.0,584.1 781.8,587.8 784.6,580.3 788.4,577.5 791.2,575.7 794.1,574.6 795.9,566.2 799.7,566.1 803.5,566.2 806.6,567.2 809.8,569.2 812.9,569.9 816.0,568.4 819.2,566.5 822.3,565.2 825.4,565.3 828.5,563.1 831.6,562.5 834.6,560.9 837.6,559.0 840.7,558.7 843.7,556.4 846.7,555.5 850.2,554.0 853.6,552.3 857.1,550.9 860.2,548.5 863.3,547.6 866.4,545.1 870.3,542.2 874.1,538.2 878.0,536.4 882.0,536.1 886.1,535.8 889.0,536.8 891.9,539.3 895.4,541.1 898.8,540.1 902.3,541.6 905.8,539.4 909.3,537.8 912.8,535.8 916.5,535.5 920.3,533.0 924.0,533.0 927.8,532.3 931.7,532.4 935.5,532.1 939.4,530.6 942.5,532.8 945.6,534.4 948.7,536.4 952.8,533.5 956.8,531.2 959.7,533.5 962.6,536.4 965.7,538.3 968.8,538.5 971.9,538.1 976.5,541.6 980.0,550.9 983.0,554.8 986.5,546.7 989.6,544.4 992.7,542.7 995.8,539.7 999.7,542.2 1003.5,544.3 1007.4,547.8 1011.3,547.6 1015.1,543.8 1019.0,543.2 1022.1,541.2 1025.2,539.9 1028.3,538.1 1031.8,537.4 1035.2,536.0 1038.7,535.0 1042.2,534.4 1045.7,536.6 1049.2,538.2 1052.7,536.9 1056.1,534.9 1059.5,534.1 1063.0,532.4 1066.5,530.5 1070.0,530.1 1074.6,524.4 1077.4,520.7 1080.3,518.6 1083.8,518.4 1087.2,519.2 1090.7,519.8 1093.8,518.6 1096.8,516.7 1099.9,515.2 1103.3,514.4 1106.8,515.2 1110.2,517.2 1113.7,519.8 1116.6,518.2 1119.5,516.3 1123.5,517.8 1127.6,518.6 1131.0,516.3 1134.5,512.9 1138.0,510.9 1141.4,509.4 1144.8,507.2 1148.3,505.9 1151.8,505.4 1155.2,503.6 1159.8,505.9 1163.3,504.3 1166.8,502.5 1171.4,510.5 1176.0,511.7 1180.4,516.8 1184.1,509.6 1187.2,504.9 1190.4,500.9 1193.5,495.1 1196.4,497.0 1199.3,499.4 1202.2,497.5 1205.1,497.8 1208.0,495.8 1211.6,496.2 1215.2,495.8 1218.8,493.7 1222.5,493.6 1225.4,491.4 1228.3,488.9 1231.2,486.4 1234.1,484.6 1237.1,483.3 1240.0,482.0 1244.3,477.7 1248.1,476.5 1252.0,474.1 1255.8,471.9 1259.4,460.5 1263.0,448.7 1266.7,453.0 1270.3,457.4 1273.9,453.2 1277.5,449.4 1280.4,450.5 1283.3,451.6 1286.9,448.3 1290.6,444.3 1294.9,440.7 1299.3,442.2 1302.9,447.7 1306.5,451.6 1310.2,456.1 1313.8,461.7 1318.1,458.8 1322.5,462.5 1326.8,453.8 1329.7,455.8 1332.6,456.6 1335.5,459.6 1339.9,463.2 1344.2,457.4" fill="none" stroke="rgba(52,211,153,0.5)" stroke-width="5" stroke-linejoin="round" stroke-linecap="round"/><polyline points="125.0,631.1 128.3,628.1 131.7,626.2 135.0,623.1 138.4,621.4 141.7,617.0 145.0,619.2 148.4,619.5 151.7,621.7 155.1,623.5 158.4,626.6 161.7,628.0 165.1,630.7 168.4,633.4 171.8,634.9 175.1,641.4 178.4,646.8 181.8,644.8 185.1,643.8 188.5,641.4 191.8,638.7 195.1,638.9 198.5,640.6 201.8,642.2 205.2,639.4 208.5,639.1 211.8,639.9 215.2,643.7 218.5,646.1 221.9,648.8 225.2,653.6 228.5,653.7 231.9,659.1 235.2,662.2 238.6,667.6 241.9,672.5 245.2,677.6 248.6,673.1 251.9,668.5 255.3,663.5 258.6,662.4 261.9,660.9 265.3,658.2 268.6,658.1 272.0,658.4 275.3,655.6 278.6,651.8 282.0,648.1 285.3,647.0 288.7,646.8 292.0,648.1 295.3,646.2 298.7,645.0 302.0,643.2 305.4,645.5 308.7,646.2 312.0,644.2 315.4,644.8 318.7,645.1 322.1,645.2 325.4,645.3 328.7,643.7 332.1,641.6 335.4,642.1 338.8,648.2 342.1,649.0 345.4,649.6 348.8,653.3 352.1,653.8 355.5,651.9 358.8,652.4 362.1,655.4 365.5,658.5 368.8,661.1 372.2,661.2 375.5,662.9 378.8,663.3 382.2,663.5 385.5,664.1 388.9,662.2 392.2,663.7 395.5,664.7 398.9,665.9 402.2,666.7 405.6,665.6 408.9,669.9 412.2,674.2 415.6,674.6 418.9,675.2 422.3,675.0 425.6,675.3 428.9,677.3 432.3,680.1 435.6,679.8 439.0,679.0 442.3,677.6 445.6,676.3 449.0,674.4 452.3,673.4 455.7,672.5 459.0,669.2 462.3,667.1 465.7,667.3 469.0,665.2 472.4,663.5 475.7,659.3 479.0,659.5 482.4,658.9 485.7,657.0 489.1,656.9 492.4,658.0 495.7,659.1 499.1,657.1 502.4,655.5 505.8,656.3 509.1,658.3 512.4,655.3 515.8,655.7 519.1,653.4 522.5,655.5 525.8,653.6 529.1,653.1 532.5,651.0 535.8,652.1 539.2,651.9 542.5,652.0 545.8,650.2 549.2,652.1 552.5,654.1 555.9,654.6 559.2,655.2 562.5,655.2 565.9,658.1 569.2,661.4 572.6,661.4 575.9,661.1 579.2,663.1 582.6,661.5 585.9,662.3 589.3,663.5 592.6,664.5 595.9,668.1 599.3,667.8 602.6,669.0 606.0,669.3 609.3,669.2 612.6,670.3 616.0,670.7 619.3,671.4 622.7,670.6 626.0,669.1 629.3,671.5 632.7,673.4 636.0,674.0 639.4,672.9 642.7,674.3 646.0,671.8 649.4,671.1 652.7,671.0 656.1,670.1 659.4,670.4 662.7,676.8 666.1,677.6 669.4,680.8 672.8,685.5 676.1,687.7 679.4,689.5 682.8,688.2 686.1,688.6 689.5,686.1 692.8,685.2 696.1,685.5 699.5,682.1 702.8,681.1 706.2,679.3 709.5,681.4 712.8,681.5 716.2,682.2 719.5,681.6 722.9,681.7 726.2,681.4 729.5,679.0 732.9,680.4 736.2,679.6 739.6,677.3 742.9,676.8 746.2,677.7 749.6,678.9 752.9,681.4 756.3,683.0 759.6,683.8 762.9,684.1 766.3,683.1 769.6,682.7 773.0,680.7 776.3,680.3 779.6,677.3 783.0,675.0 786.3,674.8 789.7,672.6 793.0,671.6 796.3,670.5 799.7,670.0 803.0,666.7 806.4,665.3 809.7,663.5 813.0,668.0 816.4,671.3 819.7,675.3 823.1,673.7 826.4,676.3 829.7,677.9 833.1,677.2 836.4,677.8 839.8,675.5 843.1,674.9 846.4,675.0 849.8,679.5 853.1,678.6 856.5,678.2 859.8,679.3 863.1,680.3 866.5,677.3 869.8,679.2 873.2,679.4 876.5,679.3 879.8,679.9 883.2,679.1 886.5,677.2 889.9,677.8 893.2,680.3 896.5,680.4 899.9,682.1 903.2,682.4 906.6,684.0 909.9,685.4 913.2,684.8 916.6,687.7 919.9,687.3 923.3,684.6 926.6,683.9 929.9,683.7 933.3,684.2 936.6,684.0 940.0,683.6 943.3,687.7 946.6,685.9 950.0,685.5 953.3,686.1 956.7,685.4 960.0,683.3 963.3,683.3 966.7,681.1 970.0,681.7 973.4,679.0 976.7,679.2 980.0,679.8 983.4,678.2 986.7,678.1 990.1,678.5 993.4,677.5 996.7,677.0 1000.1,677.4 1003.4,678.5 1006.8,680.3 1010.1,680.5 1013.4,682.2 1016.8,683.9 1020.1,685.5 1023.5,686.0 1026.8,681.9 1030.1,683.7 1033.5,684.1 1036.8,683.5 1040.2,681.7 1043.5,681.1 1046.8,679.8 1050.2,677.1 1053.5,675.4 1056.9,676.1 1060.2,674.7 1063.5,674.5 1066.9,678.4 1070.2,678.5 1073.6,680.3 1076.9,679.3 1080.2,680.5 1083.6,680.1 1086.9,680.3 1090.3,678.3 1093.6,679.2 1096.9,680.6 1100.3,679.5 1103.6,680.0 1107.0,681.7 1110.3,685.8 1113.6,686.9 1117.0,686.7 1120.3,684.8 1123.7,683.9 1127.0,682.2 1130.3,683.0 1133.7,681.7 1137.0,682.0 1140.4,685.5 1143.7,685.3 1147.0,682.0 1150.4,679.9 1153.7,680.1 1157.1,679.2 1160.4,678.9 1163.7,678.3 1167.1,678.3 1170.4,678.4 1173.8,678.3 1177.1,679.2 1180.4,680.4 1183.8,685.8 1187.1,687.2 1190.5,688.2 1193.8,687.7 1197.1,689.0 1200.5,687.7 1203.8,694.3 1207.2,702.8 1210.5,702.8 1213.8,703.7 1217.2,708.9 1220.5,711.2 1223.9,710.3 1227.2,714.1 1230.5,711.2 1233.9,705.2 1237.2,709.0 1240.6,710.4 1243.9,705.7 1247.2,711.0 1250.6,712.2 1253.9,709.6 1257.3,714.3 1260.6,716.8 1263.9,720.0 1267.3,717.4 1270.6,715.7 1274.0,718.4 1277.3,719.1 1280.6,719.1 1284.0,721.0 1287.3,723.5 1290.7,724.1 1294.0,723.9 1297.3,717.4 1300.7,713.9 1304.0,711.3 1307.4,707.8 1310.7,712.2 1314.0,709.6 1317.4,710.5 1320.7,708.3 1324.1,712.2 1327.4,716.1 1330.7,716.5 1334.1,710.0 1337.4,710.2 1340.8,711.3 1344.1,714.3" fill="none" stroke="rgba(246,101,133,0.6)" stroke-width="5" stroke-linejoin="round" stroke-linecap="round"/><polyline points="125.0,631.1 128.3,630.8 131.7,629.2 135.0,628.2 138.4,628.8 141.7,625.5 145.0,629.7 148.4,630.4 151.7,632.2 155.1,633.0 158.4,633.8 161.7,632.7 165.1,633.3 168.4,633.9 171.8,634.3 175.1,633.0 178.4,634.5 181.8,634.2 185.1,634.3 188.5,634.4 191.8,636.3 195.1,634.3 198.5,636.0 201.8,636.5 205.2,635.0 208.5,637.1 211.8,638.6 215.2,638.7 218.5,637.1 221.9,636.4 225.2,635.7 228.5,638.8 231.9,637.7 235.2,639.2 238.6,635.8 241.9,636.4 245.2,638.9 248.6,639.0 251.9,636.6 255.3,636.4 258.6,636.5 261.9,635.5 265.3,634.6 268.6,634.1 272.0,633.5 275.3,631.3 278.6,631.4 282.0,632.3 285.3,633.1 288.7,631.1 292.0,630.0 295.3,631.4 298.7,628.3 302.0,628.1 305.4,626.2 308.7,627.4 312.0,627.4 315.4,628.9 318.7,630.2 322.1,629.8 325.4,630.4 328.7,629.8 332.1,631.1 335.4,630.7 338.8,628.7 342.1,627.7 345.4,629.7 348.8,630.5 352.1,630.5 355.5,629.2 358.8,626.7 362.1,627.2 365.5,627.5 368.8,625.2 372.2,625.1 375.5,626.7 378.8,626.9 382.2,626.8 385.5,627.4 388.9,628.0 392.2,629.5 395.5,629.1 398.9,629.6 402.2,627.6 405.6,625.7 408.9,625.8 412.2,625.6 415.6,624.6 418.9,623.1 422.3,625.1 425.6,621.2 428.9,615.0 432.3,611.8 435.6,613.6 439.0,612.7 442.3,609.3 445.6,607.2 449.0,607.7 452.3,609.5 455.7,612.1 459.0,612.8 462.3,611.9 465.7,610.6 469.0,611.0 472.4,612.5 475.7,612.2 479.0,611.0 482.4,609.8 485.7,611.2 489.1,610.7 492.4,614.0 495.7,613.4 499.1,609.5 502.4,608.0 505.8,606.2 509.1,605.8 512.4,607.7 515.8,606.1 519.1,606.9 522.5,609.8 525.8,608.8 529.1,607.6 532.5,606.8 535.8,606.4 539.2,603.3 542.5,602.7 545.8,600.2 549.2,597.2 552.5,596.0 555.9,593.8 559.2,593.7 562.5,589.3 565.9,588.8 569.2,589.0 572.6,588.5 575.9,587.1 579.2,584.9 582.6,584.1 585.9,584.6 589.3,583.9 592.6,585.3 595.9,584.1 599.3,585.9 602.6,583.9 606.0,583.8 609.3,582.1 612.6,585.3 616.0,580.9 619.3,582.5 622.7,582.6 626.0,585.7 629.3,584.5 632.7,584.8 636.0,582.6 639.4,583.5 642.7,584.1 646.0,585.0 649.4,583.6 652.7,581.1 656.1,580.7 659.4,582.8 662.7,583.0 666.1,581.4 669.4,581.7 672.8,582.3 676.1,579.4 679.4,577.0 682.8,577.2 686.1,576.5 689.5,573.0 692.8,571.2 696.1,568.3 699.5,569.3 702.8,567.5 706.2,565.2 709.5,558.6 712.8,557.2 716.2,553.0 719.5,556.5 722.9,557.5 726.2,561.3 729.5,563.3 732.9,564.3 736.2,560.9 739.6,557.8 742.9,559.1 746.2,560.5 749.6,556.6 752.9,556.8 756.3,554.9 759.6,556.4 762.9,558.5 766.3,559.7 769.6,560.2 773.0,562.3 776.3,566.2 779.6,568.0 783.0,572.8 786.3,569.4 789.7,565.2 793.0,566.3 796.3,566.1 799.7,566.0 803.0,566.3 806.4,565.3 809.7,568.2 813.0,569.8 816.4,571.2 819.7,569.5 823.1,570.4 826.4,566.1 829.7,564.7 833.1,564.9 836.4,563.1 839.8,559.8 843.1,559.8 846.4,557.8 849.8,559.8 853.1,561.1 856.5,562.1 859.8,563.5 863.1,560.8 866.5,558.7 869.8,564.3 873.2,563.6 876.5,562.6 879.8,562.6 883.2,564.9 886.5,565.4 889.9,565.0 893.2,566.0 896.5,565.0 899.9,562.5 903.2,562.8 906.6,563.6 909.9,566.1 913.2,566.4 916.6,565.5 919.9,563.8 923.3,564.7 926.6,563.3 929.9,564.5 933.3,566.5 936.6,566.6 940.0,565.9 943.3,566.3 946.6,567.9 950.0,566.2 953.3,565.8 956.7,564.7 960.0,563.3 963.3,565.2 966.7,564.0 970.0,563.7 973.4,564.9 976.7,563.8 980.0,565.0 983.4,564.4 986.7,565.2 990.1,564.5 993.4,564.3 996.7,567.0 1000.1,567.7 1003.4,568.8 1006.8,571.8 1010.1,573.0 1013.4,577.8 1016.8,579.7 1020.1,581.0 1023.5,584.0 1026.8,585.1 1030.1,584.7 1033.5,585.2 1036.8,581.3 1040.2,581.1 1043.5,579.5 1046.8,580.6 1050.2,582.6 1053.5,582.6 1056.9,582.1 1060.2,583.0 1063.5,580.8 1066.9,580.6 1070.2,579.8 1073.6,579.3 1076.9,583.6 1080.2,584.0 1083.6,582.9 1086.9,580.1 1090.3,581.1 1093.6,578.9 1096.9,579.7 1100.3,582.8 1103.6,582.4 1107.0,581.3 1110.3,579.2 1113.6,577.1 1117.0,578.3 1120.3,578.7 1123.7,577.6 1127.0,576.2 1130.3,576.2 1133.7,579.5 1137.0,578.9 1140.4,577.8 1143.7,578.7 1147.0,575.5 1150.4,574.2 1153.7,575.8 1157.1,576.8 1160.4,577.6 1163.7,580.2 1167.1,577.3 1170.4,578.4 1173.8,578.3 1177.1,577.7 1180.4,576.0 1183.8,576.6 1187.1,579.8 1190.5,580.2 1193.8,580.4 1197.1,579.7 1200.5,583.4 1203.8,584.5 1207.2,588.8 1210.5,586.0 1213.8,586.5 1217.2,586.4 1220.5,587.3 1223.9,587.8 1227.2,588.5 1230.5,588.8 1233.9,588.5 1237.2,587.3 1240.6,587.9 1243.9,589.2 1247.2,589.4 1250.6,589.6 1253.9,591.5 1257.3,590.4 1260.6,590.0 1263.9,593.5 1267.3,592.8 1270.6,594.9 1274.0,593.8 1277.3,594.2 1280.6,592.1 1284.0,592.1 1287.3,592.9 1290.7,593.7 1294.0,596.0 1297.3,595.5 1300.7,594.8 1304.0,594.3 1307.4,594.6 1310.7,592.8 1314.0,592.3 1317.4,590.4 1320.7,591.0 1324.1,589.9 1327.4,591.2 1330.7,591.7 1334.1,591.5 1337.4,591.9 1340.8,590.2 1344.1,590.8" fill="none" stroke="rgba(52,211,153,0.5)" stroke-width="5" stroke-linejoin="round" stroke-linecap="round"/><polyline points="125.0,631.1 128.3,633.4 131.7,632.3 135.0,633.0 138.4,629.8 141.7,628.1 145.0,628.8 148.4,629.8 151.7,626.4 155.1,623.9 158.4,622.6 161.7,617.4 165.1,619.3 168.4,619.6 171.8,619.5 175.1,620.5 178.4,619.3 181.8,618.9 185.1,619.6 188.5,620.1 191.8,620.3 195.1,619.3 198.5,621.3 201.8,623.0 205.2,622.2 208.5,621.8 211.8,620.5 215.2,619.0 218.5,616.8 221.9,615.5 225.2,616.6 228.5,614.9 231.9,616.2 235.2,615.4 238.6,615.0 241.9,616.2 245.2,615.4 248.6,614.9 251.9,612.8 255.3,611.6 258.6,610.7 261.9,609.2 265.3,607.6 268.6,608.4 272.0,610.6 275.3,609.7 278.6,609.1 282.0,610.9 285.3,613.2 288.7,612.1 292.0,611.9 295.3,614.3 298.7,617.9 302.0,619.9 305.4,618.5 308.7,620.7 312.0,620.7 315.4,620.3 318.7,621.0 322.1,619.5 325.4,618.8 328.7,614.7 332.1,617.2 335.4,618.1 338.8,618.0 342.1,620.0 345.4,621.8 348.8,622.9 352.1,623.7 355.5,625.1 358.8,637.9 362.1,651.9 365.5,649.1 368.8,649.1 372.2,647.7 375.5,647.2 378.8,646.6 382.2,644.5 385.5,643.2 388.9,641.4 392.2,641.1 395.5,641.4 398.9,642.5 402.2,642.2 405.6,641.4 408.9,640.4 412.2,639.2 415.6,638.2 418.9,638.8 422.3,637.8 425.6,637.3 428.9,635.9 432.3,633.7 435.6,634.1 439.0,634.7 442.3,635.1 445.6,635.5 449.0,634.2 452.3,634.5 455.7,634.4 459.0,634.6 462.3,633.2 465.7,634.3 469.0,635.3 472.4,632.9 475.7,632.0 479.0,631.2 482.4,631.3 485.7,632.6 489.1,629.2 492.4,630.0 495.7,630.2 499.1,628.6 502.4,626.7 505.8,626.8 509.1,625.0 512.4,622.8 515.8,620.8 519.1,622.5 522.5,618.0 525.8,619.5 529.1,616.8 532.5,618.2 535.8,617.2 539.2,617.0 542.5,617.1 545.8,617.7 549.2,621.0 552.5,620.9 555.9,618.5 559.2,618.6 562.5,615.5 565.9,615.0 569.2,615.6 572.6,615.5 575.9,611.9 579.2,612.2 582.6,613.2 585.9,613.1 589.3,613.0 592.6,613.8 595.9,612.8 599.3,611.8 602.6,610.2 606.0,609.1 609.3,608.4 612.6,609.5 616.0,611.9 619.3,612.7 622.7,614.0 626.0,612.7 629.3,613.5 632.7,612.0 636.0,611.6 639.4,614.3 642.7,614.6 646.0,614.1 649.4,614.8 652.7,613.5 656.1,613.5 659.4,612.1 662.7,613.5 666.1,613.4 669.4,613.5 672.8,614.0 676.1,614.4 679.4,614.9 682.8,615.0 686.1,614.6 689.5,615.5 692.8,615.3 696.1,616.2 699.5,617.4 702.8,618.9 706.2,618.1 709.5,616.7 712.8,616.5 716.2,615.8 719.5,616.8 722.9,616.0 726.2,617.5 729.5,616.0 732.9,617.3 736.2,616.9 739.6,615.6 742.9,613.7 746.2,612.0 749.6,611.3 752.9,613.8 756.3,615.5 759.6,616.8 762.9,616.6 766.3,617.7 769.6,616.4 773.0,614.1 776.3,613.0 779.6,613.5 783.0,617.9 786.3,615.5 789.7,614.5 793.0,613.8 796.3,612.9 799.7,611.8 803.0,611.7 806.4,610.7 809.7,610.5 813.0,607.6 816.4,606.1 819.7,604.3 823.1,603.3 826.4,603.8 829.7,602.0 833.1,601.6 836.4,600.2 839.8,600.1 843.1,600.4 846.4,599.5 849.8,600.7 853.1,598.9 856.5,601.3 859.8,598.9 863.1,598.8 866.5,599.2 869.8,600.9 873.2,600.1 876.5,600.3 879.8,599.9 883.2,600.1 886.5,599.9 889.9,599.4 893.2,600.0 896.5,602.1 899.9,603.0 903.2,602.9 906.6,601.5 909.9,600.7 913.2,599.1 916.6,601.1 919.9,603.4 923.3,602.1 926.6,603.3 929.9,606.2 933.3,607.0 936.6,607.2 940.0,605.8 943.3,605.0 946.6,605.1 950.0,605.6 953.3,606.9 956.7,607.6 960.0,608.4 963.3,610.3 966.7,610.8 970.0,610.5 973.4,607.6 976.7,607.8 980.0,607.9 983.4,609.9 986.7,607.3 990.1,606.3 993.4,603.6 996.7,604.5 1000.1,606.2 1003.4,605.1 1006.8,606.3 1010.1,606.1 1013.4,607.5 1016.8,608.4 1020.1,608.0 1023.5,605.8 1026.8,604.3 1030.1,604.8 1033.5,605.7 1036.8,604.5 1040.2,605.1 1043.5,607.7 1046.8,605.7 1050.2,605.9 1053.5,606.0 1056.9,604.2 1060.2,602.8 1063.5,605.7 1066.9,606.1 1070.2,607.3 1073.6,605.6 1076.9,606.2 1080.2,606.5 1083.6,607.5 1086.9,605.1 1090.3,601.3 1093.6,600.5 1096.9,600.7 1100.3,599.2 1103.6,598.6 1107.0,593.9 1110.3,595.2 1113.6,595.9 1117.0,593.2 1120.3,591.6 1123.7,593.2 1127.0,595.7 1130.3,595.7 1133.7,594.7 1137.0,591.9 1140.4,590.4 1143.7,587.6 1147.0,586.7 1150.4,585.5 1153.7,586.7 1157.1,583.5 1160.4,583.1 1163.7,581.5 1167.1,581.1 1170.4,583.1 1173.8,581.1 1177.1,579.4 1180.4,579.0 1183.8,575.2 1187.1,573.0 1190.5,574.3 1193.8,572.1 1197.1,575.0 1200.5,576.2 1203.8,578.2 1207.2,578.3 1210.5,577.8 1213.8,576.0 1217.2,575.4 1220.5,575.3 1223.9,571.8 1227.2,571.9 1230.5,573.6 1233.9,572.6 1237.2,568.7 1240.6,570.1 1243.9,567.5 1247.2,567.6 1250.6,567.7 1253.9,571.6 1257.3,570.0 1260.6,571.3 1263.9,570.6 1267.3,568.5 1270.6,568.7 1274.0,569.8 1277.3,571.1 1280.6,573.5 1284.0,571.1 1287.3,568.7 1290.7,564.5 1294.0,563.6 1297.3,560.0 1300.7,557.0 1304.0,555.9 1307.4,554.9 1310.7,559.4 1314.0,557.4 1317.4,556.9 1320.7,556.2 1324.1,552.6 1327.4,550.6 1330.7,547.5 1334.1,543.6 1337.4,543.8 1340.8,544.3 1344.1,542.5" fill="none" stroke="rgba(52,211,153,0.5)" stroke-width="5" stroke-linejoin="round" stroke-linecap="round"/><polyline points="125.0,631.1 128.3,626.1 131.7,621.9 135.0,614.5 138.4,610.1 141.7,607.8 145.0,607.6 148.4,609.9 151.7,609.8 155.1,612.8 158.4,617.0 161.7,618.3 165.1,618.2 168.4,617.5 171.8,617.0 175.1,618.3 178.4,618.2 181.8,619.3 185.1,620.8 188.5,624.4 191.8,625.4 195.1,628.0 198.5,625.6 201.8,626.1 205.2,625.6 208.5,623.9 211.8,622.4 215.2,622.4 218.5,620.4 221.9,620.6 225.2,620.9 228.5,621.3 231.9,621.7 235.2,617.6 238.6,616.0 241.9,613.4 245.2,613.4 248.6,612.1 251.9,606.5 255.3,601.3 258.6,599.9 261.9,599.5 265.3,597.9 268.6,600.6 272.0,599.4 275.3,599.7 278.6,597.2 282.0,595.1 285.3,594.1 288.7,595.6 292.0,592.3 295.3,588.1 298.7,590.1 302.0,596.1 305.4,597.5 308.7,598.0 312.0,600.7 315.4,601.0 318.7,603.3 322.1,604.2 325.4,603.5 328.7,603.5 332.1,602.9 335.4,601.3 338.8,595.6 342.1,592.8 345.4,591.9 348.8,588.4 352.1,586.6 355.5,586.0 358.8,587.2 362.1,584.1 365.5,585.3 368.8,587.6 372.2,590.4 375.5,587.4 378.8,589.5 382.2,587.4 385.5,588.3 388.9,587.2 392.2,587.9 395.5,590.5 398.9,591.7 402.2,592.0 405.6,590.4 408.9,589.8 412.2,587.9 415.6,591.4 418.9,589.3 422.3,585.6 425.6,587.4 428.9,588.6 432.3,587.2 435.6,587.7 439.0,585.6 442.3,584.0 445.6,584.1 449.0,584.0 452.3,582.6 455.7,584.5 459.0,585.0 462.3,584.5 465.7,581.9 469.0,581.4 472.4,582.5 475.7,583.9 479.0,586.7 482.4,587.3 485.7,589.3 489.1,592.1 492.4,593.9 495.7,598.7 499.1,597.1 502.4,598.2 505.8,597.5 509.1,595.9 512.4,598.3 515.8,594.2 519.1,592.3 522.5,591.8 525.8,591.5 529.1,592.5 532.5,589.6 535.8,590.7 539.2,588.8 542.5,586.4 545.8,586.9 549.2,587.2 552.5,588.5 555.9,589.8 559.2,592.0 562.5,594.5 565.9,596.7 569.2,599.1 572.6,599.4 575.9,605.4 579.2,610.1 582.6,612.6 585.9,614.5 589.3,613.6 592.6,613.2 595.9,610.0 599.3,612.4 602.6,613.3 606.0,613.0 609.3,613.2 612.6,613.2 616.0,614.5 619.3,614.3 622.7,616.0 626.0,618.6 629.3,618.3 632.7,617.8 636.0,616.6 639.4,616.5 642.7,615.5 646.0,615.8 649.4,616.5 652.7,617.6 656.1,616.0 659.4,618.0 662.7,617.8 666.1,617.9 669.4,617.4 672.8,614.5 676.1,615.8 679.4,614.0 682.8,616.7 686.1,617.7 689.5,621.2 692.8,622.1 696.1,623.1 699.5,625.2 702.8,625.1 706.2,626.0 709.5,624.3 712.8,623.2 716.2,620.6 719.5,620.0 722.9,619.5 726.2,619.5 729.5,618.1 732.9,618.8 736.2,620.2 739.6,620.6 742.9,621.4 746.2,622.5 749.6,624.4 752.9,622.5 756.3,623.9 759.6,625.9 762.9,623.6 766.3,623.0 769.6,625.4 773.0,626.2 776.3,627.4 779.6,626.9 783.0,624.6 786.3,628.9 789.7,629.1 793.0,629.2 796.3,629.5 799.7,628.5 803.0,626.3 806.4,622.2 809.7,620.7 813.0,619.1 816.4,616.7 819.7,614.1 823.1,611.2 826.4,609.9 829.7,607.9 833.1,607.5 836.4,608.1 839.8,607.6 843.1,606.7 846.4,608.4 849.8,608.5 853.1,605.3 856.5,603.3 859.8,603.7 863.1,602.4 866.5,603.7 869.8,601.0 873.2,598.1 876.5,599.8 879.8,600.9 883.2,598.6 886.5,598.9 889.9,601.3 893.2,601.1 896.5,600.7 899.9,600.3 903.2,600.2 906.6,599.0 909.9,598.3 913.2,596.0 916.6,596.2 919.9,599.8 923.3,598.2 926.6,599.1 929.9,600.5 933.3,596.3 936.6,595.9 940.0,595.4 943.3,594.3 946.6,595.1 950.0,593.8 953.3,593.9 956.7,597.4 960.0,601.3 963.3,599.9 966.7,603.4 970.0,603.2 973.4,601.3 976.7,604.6 980.0,607.3 983.4,607.1 986.7,606.2 990.1,605.2 993.4,607.4 996.7,607.0 1000.1,606.0 1003.4,607.6 1006.8,605.7 1010.1,604.1 1013.4,605.8 1016.8,605.7 1020.1,606.2 1023.5,605.4 1026.8,605.4 1030.1,603.0 1033.5,602.5 1036.8,602.1 1040.2,599.4 1043.5,596.1 1046.8,595.8 1050.2,594.5 1053.5,594.3 1056.9,592.1 1060.2,590.2 1063.5,588.9 1066.9,589.9 1070.2,590.0 1073.6,587.8 1076.9,588.5 1080.2,585.9 1083.6,586.2 1086.9,584.9 1090.3,585.4 1093.6,584.4 1096.9,582.4 1100.3,579.7 1103.6,581.6 1107.0,581.6 1110.3,582.6 1113.6,584.4 1117.0,582.2 1120.3,584.2 1123.7,584.7 1127.0,585.0 1130.3,585.5 1133.7,582.3 1137.0,581.5 1140.4,581.1 1143.7,581.1 1147.0,581.9 1150.4,580.2 1153.7,579.2 1157.1,579.5 1160.4,575.9 1163.7,578.2 1167.1,576.1 1170.4,577.5 1173.8,578.5 1177.1,582.3 1180.4,584.8 1183.8,585.6 1187.1,583.7 1190.5,584.7 1193.8,586.3 1197.1,588.3 1200.5,587.5 1203.8,587.3 1207.2,587.2 1210.5,587.9 1213.8,586.8 1217.2,586.8 1220.5,588.6 1223.9,588.1 1227.2,588.7 1230.5,587.5 1233.9,585.5 1237.2,585.6 1240.6,589.5 1243.9,592.2 1247.2,594.4 1250.6,597.5 1253.9,597.9 1257.3,599.5 1260.6,599.8 1263.9,598.7 1267.3,596.4 1270.6,596.6 1274.0,597.1 1277.3,599.1 1280.6,598.5 1284.0,596.7 1287.3,598.3 1290.7,598.2 1294.0,595.6 1297.3,597.6 1300.7,598.3 1304.0,597.7 1307.4,597.5 1310.7,596.2 1314.0,597.7 1317.4,597.0 1320.7,596.2 1324.1,595.6 1327.4,594.8 1330.7,597.4 1334.1,601.0 1337.4,603.2 1340.8,600.8 1344.1,601.3" fill="none" stroke="rgba(52,211,153,0.5)" stroke-width="5" stroke-linejoin="round" stroke-linecap="round"/><polyline points="125.0,631.1 128.3,630.5 131.7,628.7 135.0,633.0 138.4,632.4 141.7,633.8 145.0,635.6 148.4,635.9 151.7,635.8 155.1,637.8 158.4,637.6 161.7,639.5 165.1,639.7 168.4,637.3 171.8,635.7 175.1,636.2 178.4,634.8 181.8,636.7 185.1,638.1 188.5,641.6 191.8,642.1 195.1,642.7 198.5,644.6 201.8,646.8 205.2,644.5 208.5,646.4 211.8,644.8 215.2,646.1 218.5,645.0 221.9,643.7 225.2,639.8 228.5,637.9 231.9,640.1 235.2,637.3 238.6,638.2 241.9,638.7 245.2,636.3 248.6,636.4 251.9,637.7 255.3,636.2 258.6,634.4 261.9,636.3 265.3,636.9 268.6,640.5 272.0,641.3 275.3,639.4 278.6,639.3 282.0,637.4 285.3,638.7 288.7,639.9 292.0,639.8 295.3,638.9 298.7,641.1 302.0,641.0 305.4,643.7 308.7,640.3 312.0,638.2 315.4,635.6 318.7,632.1 322.1,635.0 325.4,638.1 328.7,637.3 332.1,638.8 335.4,636.0 338.8,638.4 342.1,640.4 345.4,640.1 348.8,639.7 352.1,640.4 355.5,641.4 358.8,640.8 362.1,639.4 365.5,639.0 368.8,638.4 372.2,639.7 375.5,639.9 378.8,640.3 382.2,637.6 385.5,637.0 388.9,636.4 392.2,634.8 395.5,634.0 398.9,632.8 402.2,629.6 405.6,630.5 408.9,631.4 412.2,629.8 415.6,631.6 418.9,630.8 422.3,629.4 425.6,629.8 428.9,633.1 432.3,633.7 435.6,631.9 439.0,633.0 442.3,633.8 445.6,634.3 449.0,636.5 452.3,635.3 455.7,634.0 459.0,633.3 462.3,636.8 465.7,638.7 469.0,639.4 472.4,639.9 475.7,640.3 479.0,641.7 482.4,639.7 485.7,639.4 489.1,642.7 492.4,643.0 495.7,641.7 499.1,641.5 502.4,641.0 505.8,641.4 509.1,642.6 512.4,642.5 515.8,642.9 519.1,644.2 522.5,643.7 525.8,644.1 529.1,642.8 532.5,645.1 535.8,648.0 539.2,646.8 542.5,649.3 545.8,650.7 549.2,651.9 552.5,653.1 555.9,655.1 559.2,658.4 562.5,657.5 565.9,660.4 569.2,661.1 572.6,660.4 575.9,660.0 579.2,660.9 582.6,660.5 585.9,660.7 589.3,659.9 592.6,658.8 595.9,660.2 599.3,658.4 602.6,660.0 606.0,660.6 609.3,660.1 612.6,659.7 616.0,659.2 619.3,659.1 622.7,659.0 626.0,658.8 629.3,655.5 632.7,652.7 636.0,653.9 639.4,653.5 642.7,653.2 646.0,653.5 649.4,652.3 652.7,655.5 656.1,658.2 659.4,660.5 662.7,661.4 666.1,665.7 669.4,669.7 672.8,675.0 676.1,678.9 679.4,680.0 682.8,680.3 686.1,684.2 689.5,684.6 692.8,686.1 696.1,683.4 699.5,681.8 702.8,680.3 706.2,680.5 709.5,681.3 712.8,680.3 716.2,683.1 719.5,684.0 722.9,682.3 726.2,685.1 729.5,686.2 732.9,685.6 736.2,686.1 739.6,683.3 742.9,681.7 746.2,680.3 749.6,677.6 752.9,679.3 756.3,675.9 759.6,676.3 762.9,678.3 766.3,680.8 769.6,683.1 773.0,679.5 776.3,674.7 779.6,672.2 783.0,674.0 786.3,672.5 789.7,671.8 793.0,669.6 796.3,670.4 799.7,670.1 803.0,670.0 806.4,669.4 809.7,664.5 813.0,665.0 816.4,667.0 819.7,666.7 823.1,665.1 826.4,663.5 829.7,661.7 833.1,665.6 836.4,668.9 839.8,668.9 843.1,672.1 846.4,671.3 849.8,671.7 853.1,671.7 856.5,672.7 859.8,675.0 863.1,677.3 866.5,677.4 869.8,676.1 873.2,675.2 876.5,673.8 879.8,675.2 883.2,674.7 886.5,676.0 889.9,677.6 893.2,679.8 896.5,679.0 899.9,680.3 903.2,681.3 906.6,680.6 909.9,677.9 913.2,677.6 916.6,675.8 919.9,672.1 923.3,672.5 926.6,672.5 929.9,670.4 933.3,669.3 936.6,669.1 940.0,668.9 943.3,667.6 946.6,667.4 950.0,671.3 953.3,674.6 956.7,676.6 960.0,677.6 963.3,676.7 966.7,679.0 970.0,680.3 973.4,679.7 976.7,678.2 980.0,678.9 983.4,681.0 986.7,680.2 990.1,678.3 993.4,679.1 996.7,681.7 1000.1,682.6 1003.4,683.7 1006.8,681.7 1010.1,681.0 1013.4,682.3 1016.8,683.1 1020.1,683.4 1023.5,684.6 1026.8,686.2 1030.1,686.6 1033.5,685.6 1036.8,683.6 1040.2,684.1 1043.5,684.1 1046.8,684.0 1050.2,686.1 1053.5,685.3 1056.9,685.1 1060.2,686.5 1063.5,685.3 1066.9,682.1 1070.2,681.5 1073.6,683.1 1076.9,682.9 1080.2,683.2 1083.6,681.0 1086.9,683.7 1090.3,681.6 1093.6,681.2 1096.9,681.7 1100.3,684.1 1103.6,683.5 1107.0,681.5 1110.3,678.3 1113.6,679.6 1117.0,679.3 1120.3,680.1 1123.7,680.4 1127.0,682.7 1130.3,681.1 1133.7,684.5 1137.0,682.5 1140.4,685.6 1143.7,684.5 1147.0,683.9 1150.4,682.0 1153.7,681.3 1157.1,680.1 1160.4,680.9 1163.7,681.1 1167.1,687.7 1170.4,699.9 1173.8,691.5 1177.1,693.5 1180.4,694.3 1183.8,698.0 1187.1,697.6 1190.5,694.7 1193.8,696.2 1197.1,696.1 1200.5,696.2 1203.8,697.1 1207.2,697.5 1210.5,699.0 1213.8,698.7 1217.2,694.3 1220.5,694.6 1223.9,696.2 1227.2,697.4 1230.5,696.7 1233.9,697.1 1237.2,693.5 1240.6,693.7 1243.9,692.9 1247.2,693.9 1250.6,692.7 1253.9,694.6 1257.3,694.8 1260.6,692.6 1263.9,692.3 1267.3,693.5 1270.6,693.0 1274.0,692.0 1277.3,693.5 1280.6,694.6 1284.0,690.9 1287.3,692.6 1290.7,694.1 1294.0,695.7 1297.3,694.1 1300.7,695.9 1304.0,697.0 1307.4,694.8 1310.7,693.9 1314.0,693.7 1317.4,692.0 1320.7,693.2 1324.1,694.8 1327.4,697.2 1330.7,698.6 1334.1,697.4 1337.4,698.9 1340.8,697.1 1344.1,695.7" fill="none" stroke="rgba(246,101,133,0.6)" stroke-width="5" stroke-linejoin="round" stroke-linecap="round"/><polyline points="125.0,631.1 128.3,633.5 131.7,630.7 135.0,630.1 138.4,628.6 141.7,627.0 145.0,625.9 148.4,624.9 151.7,624.6 155.1,625.1 158.4,622.9 161.7,619.5 165.1,617.5 168.4,614.5 171.8,614.8 175.1,614.5 178.4,613.1 181.8,610.7 185.1,609.5 188.5,608.1 191.8,607.6 195.1,610.0 198.5,609.8 201.8,610.6 205.2,610.7 208.5,612.5 211.8,612.5 215.2,612.9 218.5,611.6 221.9,609.8 225.2,609.3 228.5,609.6 231.9,610.8 235.2,608.8 238.6,609.8 241.9,609.8 245.2,610.3 248.6,611.2 251.9,611.9 255.3,614.0 258.6,614.7 261.9,614.5 265.3,613.0 268.6,612.9 272.0,612.8 275.3,613.5 278.6,613.1 282.0,609.7 285.3,607.7 288.7,606.3 292.0,607.9 295.3,607.9 298.7,609.5 302.0,610.1 305.4,608.4 308.7,609.1 312.0,610.5 315.4,611.7 318.7,609.9 322.1,611.2 325.4,612.8 328.7,612.1 332.1,613.9 335.4,613.4 338.8,614.0 342.1,615.4 345.4,618.4 348.8,619.2 352.1,619.0 355.5,619.2 358.8,616.9 362.1,612.6 365.5,608.4 368.8,609.5 372.2,605.6 375.5,600.7 378.8,599.4 382.2,598.7 385.5,596.6 388.9,597.5 392.2,597.7 395.5,598.3 398.9,599.3 402.2,598.7 405.6,599.4 408.9,602.0 412.2,599.5 415.6,598.8 418.9,598.6 422.3,596.7 425.6,597.0 428.9,594.6 432.3,594.2 435.6,594.6 439.0,596.7 442.3,596.9 445.6,594.6 449.0,591.5 452.3,593.1 455.7,593.2 459.0,591.4 462.3,592.2 465.7,592.1 469.0,592.5 472.4,591.3 475.7,592.2 479.0,593.0 482.4,594.2 485.7,597.4 489.1,599.4 492.4,597.7 495.7,595.2 499.1,594.7 502.4,596.8 505.8,598.6 509.1,596.9 512.4,597.9 515.8,597.9 519.1,596.1 522.5,596.0 525.8,596.4 529.1,595.1 532.5,594.9 535.8,595.6 539.2,598.2 542.5,597.7 545.8,599.2 549.2,600.3 552.5,601.4 555.9,600.5 559.2,600.4 562.5,600.4 565.9,600.9 569.2,599.5 572.6,599.8 575.9,600.3 579.2,601.7 582.6,600.9 585.9,600.9 589.3,600.1 592.6,599.8 595.9,600.5 599.3,600.1 602.6,599.8 606.0,600.5 609.3,597.9 612.6,599.6 616.0,600.8 619.3,600.9 622.7,600.5 626.0,600.3 629.3,601.9 632.7,600.8 636.0,600.9 639.4,601.3 642.7,600.6 646.0,601.9 649.4,600.5 652.7,604.3 656.1,603.3 659.4,605.2 662.7,603.2 666.1,605.1 669.4,603.7 672.8,604.5 676.1,605.0 679.4,603.9 682.8,602.5 686.1,600.7 689.5,598.0 692.8,598.8 696.1,595.6 699.5,594.8 702.8,593.1 706.2,592.5 709.5,591.3 712.8,591.0 716.2,592.2 719.5,591.7 722.9,592.8 726.2,590.9 729.5,592.2 732.9,591.1 736.2,593.0 739.6,592.8 742.9,591.0 746.2,591.0 749.6,591.3 752.9,592.1 756.3,592.8 759.6,594.1 762.9,592.0 766.3,593.3 769.6,593.0 773.0,593.5 776.3,594.1 779.6,591.4 783.0,592.1 786.3,594.4 789.7,593.9 793.0,593.3 796.3,595.5 799.7,595.8 803.0,597.5 806.4,599.5 809.7,597.1 813.0,597.6 816.4,595.1 819.7,594.0 823.1,594.9 826.4,593.5 829.7,592.8 833.1,592.5 836.4,593.5 839.8,594.6 843.1,595.8 846.4,595.4 849.8,594.7 853.1,595.8 856.5,594.9 859.8,595.1 863.1,597.7 866.5,597.8 869.8,597.9 873.2,601.1 876.5,602.5 879.8,598.2 883.2,596.3 886.5,598.7 889.9,602.5 893.2,602.3 896.5,603.7 899.9,605.1 903.2,605.9 906.6,603.2 909.9,605.1 913.2,605.8 916.6,605.6 919.9,603.3 923.3,602.5 926.6,602.3 929.9,602.0 933.3,602.3 936.6,601.7 940.0,603.3 943.3,604.4 946.6,602.5 950.0,601.6 953.3,602.3 956.7,601.4 960.0,603.7 963.3,602.9 966.7,603.3 970.0,604.3 973.4,602.5 976.7,605.1 980.0,605.4 983.4,604.8 986.7,604.3 990.1,602.1 993.4,599.6 996.7,601.8 1000.1,601.3 1003.4,600.5 1006.8,600.5 1010.1,600.7 1013.4,598.7 1016.8,597.6 1020.1,597.3 1023.5,598.2 1026.8,597.9 1030.1,599.8 1033.5,598.8 1036.8,597.5 1040.2,594.9 1043.5,594.6 1046.8,595.3 1050.2,594.6 1053.5,594.0 1056.9,592.1 1060.2,590.8 1063.5,589.7 1066.9,589.1 1070.2,590.4 1073.6,590.2 1076.9,590.6 1080.2,591.4 1083.6,589.7 1086.9,590.7 1090.3,589.8 1093.6,587.5 1096.9,586.4 1100.3,586.2 1103.6,583.6 1107.0,587.2 1110.3,586.8 1113.6,587.9 1117.0,585.6 1120.3,579.8 1123.7,574.3 1127.0,572.7 1130.3,572.7 1133.7,572.3 1137.0,572.5 1140.4,572.0 1143.7,574.3 1147.0,575.2 1150.4,575.3 1153.7,573.2 1157.1,574.3 1160.4,573.1 1163.7,576.3 1167.1,573.8 1170.4,575.5 1173.8,576.9 1177.1,577.0 1180.4,576.8 1183.8,577.0 1187.1,574.0 1190.5,575.6 1193.8,575.9 1197.1,575.5 1200.5,576.3 1203.8,572.7 1207.2,571.3 1210.5,570.2 1213.8,568.5 1217.2,570.2 1220.5,573.5 1223.9,574.3 1227.2,573.8 1230.5,574.3 1233.9,573.5 1237.2,573.7 1240.6,574.3 1243.9,572.9 1247.2,571.2 1250.6,570.3 1253.9,569.3 1257.3,569.3 1260.6,568.7 1263.9,568.6 1267.3,569.6 1270.6,572.1 1274.0,571.8 1277.3,573.4 1280.6,575.4 1284.0,573.9 1287.3,575.4 1290.7,571.8 1294.0,571.2 1297.3,568.1 1300.7,569.3 1304.0,570.2 1307.4,570.6 1310.7,570.2 1314.0,569.0 1317.4,570.3 1320.7,570.1 1324.1,571.8 1327.4,570.5 1330.7,572.5 1334.1,574.6 1337.4,572.2 1340.8,571.4 1344.1,571.5" fill="none" stroke="rgba(52,211,153,0.5)" stroke-width="5" stroke-linejoin="round" stroke-linecap="round"/>
<line x1="125.7" y1="631.2" x2="1344" y2="631.2" stroke="#0c0c24" stroke-width="4.6" stroke-linecap="round" stroke-dasharray="11.4 16.37"/>
<polyline points="122.6,631.1 125.3,629.4 128.0,627.8 131.3,628.2 134.6,627.3 138.4,627.1 142.2,627.3 144.9,626.4 147.6,625.7 152.0,622.9 156.0,623.5 160.7,624.0 165.0,627.8 167.9,628.8 170.8,629.2 173.7,630.5 176.6,630.9 179.5,630.8 182.4,631.6 186.0,630.9 189.7,631.6 193.3,632.2 196.6,633.6 199.8,635.4 203.6,634.7 207.4,634.3 210.1,632.8 212.8,631.6 216.4,630.9 220.1,631.4 223.7,630.5 227.3,631.2 231.0,630.6 234.6,630.5 238.2,630.7 241.8,631.1 245.4,630.0 248.3,629.2 251.2,627.4 254.1,626.7 257.4,624.3 260.7,622.4 265.0,620.2 268.6,619.0 272.3,619.1 275.9,618.3 279.2,617.6 282.4,618.7 285.7,617.8 288.9,618.1 292.2,617.9 296.1,618.0 300.0,618.8 303.1,618.1 306.2,618.2 309.3,617.7 312.8,615.0 316.2,611.9 319.7,609.1 323.2,606.1 327.1,605.6 330.9,606.1 334.8,604.9 338.3,600.8 342.9,603.8 346.9,601.9 351.0,600.3 354.9,599.0 358.7,597.0 362.6,596.8 366.1,596.3 369.6,596.1 373.1,598.1 376.5,599.1 381.2,602.1 385.8,600.3 389.3,607.2 392.8,601.4 396.2,602.3 399.7,604.9 402.8,602.7 405.9,601.5 409.0,599.1 412.1,599.1 415.2,599.0 418.3,598.0 421.4,598.3 424.4,598.1 427.5,597.5 431.0,601.1 434.5,602.6 437.9,601.4 441.4,601.4 445.3,600.4 449.1,599.4 453.0,598.0 456.1,598.7 459.2,599.2 462.3,598.4 465.4,599.3 468.5,600.7 471.6,602.6 475.5,604.3 479.3,606.0 483.2,607.2 486.6,606.8 490.1,604.5 494.0,603.3 497.8,601.6 501.7,601.4 505.2,601.4 508.7,602.8 512.2,604.1 515.7,604.5 518.8,603.4 521.8,604.3 524.9,604.9 528.4,607.2 531.9,609.6 536.5,608.4 540.0,606.7 543.5,603.8 546.6,604.5 549.7,605.2 552.8,606.1 556.6,607.5 560.5,606.6 564.3,607.2 567.4,607.1 570.5,607.8 573.6,606.1 578.3,602.6 581.4,602.1 584.4,601.4 587.5,600.8 591.0,598.9 594.5,596.8 598.0,599.2 601.4,599.8 604.5,599.7 607.6,599.3 610.7,599.8 613.8,600.4 616.9,599.3 620.0,599.8 624.1,599.7 628.3,600.2 631.5,599.8 634.8,599.8 638.0,599.3 641.3,598.9 644.5,598.2 647.8,598.0 651.3,597.6 654.8,598.3 658.2,598.8 661.7,598.6 665.2,599.0 668.1,600.2 671.0,601.6 673.9,601.3 676.9,601.4 680.0,601.6 683.0,601.9 686.1,602.1 689.1,602.4 692.6,603.1 696.0,603.0 699.5,603.8 703.0,604.6 706.6,606.0 710.3,606.3 713.9,607.8 717.2,607.5 720.4,606.3 723.7,607.2 727.0,606.7 730.2,605.2 733.5,605.7 736.5,607.5 739.6,609.4 742.6,610.7 745.7,611.8 748.7,613.3 752.0,612.0 755.2,612.2 758.7,611.9 762.2,612.0 765.6,611.0 769.1,612.2 772.6,611.1 776.2,608.3 779.9,605.6 783.5,603.5 786.8,603.7 790.0,604.6 793.6,603.5 797.3,601.5 800.9,600.2 804.5,600.6 808.1,601.9 811.7,603.5 815.3,603.0 819.0,601.0 822.6,600.2 825.6,600.8 828.7,600.9 831.7,602.1 834.8,603.7 837.8,603.5 840.7,604.7 843.6,607.0 846.5,608.9 849.8,612.6 853.0,615.4 856.3,614.4 859.6,613.3 863.9,606.7 867.5,605.5 871.2,607.5 874.8,607.8 878.4,609.8 882.1,610.9 885.7,612.2 889.0,611.2 892.2,610.1 895.5,610.9 898.7,610.0 902.3,608.3 906.0,609.4 909.6,607.8 912.9,606.1 916.1,603.5 919.4,603.4 922.6,604.6 925.9,607.4 929.1,610.0 932.4,610.5 935.7,610.8 938.9,611.1 942.2,611.1 945.1,610.6 948.0,611.0 950.9,611.1 953.8,612.9 956.7,613.9 959.6,616.5 963.2,613.9 966.8,613.6 970.4,612.2 974.0,611.1 977.7,610.9 981.3,608.9 984.9,609.3 988.6,610.1 992.2,610.9 995.2,609.7 998.2,607.6 1001.3,606.8 1004.3,605.7 1007.8,604.8 1011.3,605.1 1014.7,605.1 1018.2,605.1 1021.7,604.8 1024.6,604.3 1027.5,603.7 1030.4,602.2 1033.1,602.4 1035.7,603.0 1038.6,605.1 1041.4,606.2 1044.3,608.3 1047.3,607.5 1050.4,607.7 1053.5,606.1 1056.5,606.5 1060.0,605.8 1063.5,606.4 1067.0,606.5 1069.6,607.8 1072.2,609.1 1075.7,607.2 1079.1,605.7 1081.7,606.2 1084.3,605.7 1087.8,603.7 1091.3,601.3 1094.3,600.8 1097.4,601.7 1100.5,599.5 1103.5,599.6 1106.5,599.4 1109.6,600.9 1112.7,601.0 1115.7,601.3 1118.7,601.3 1121.8,601.5 1124.8,601.9 1127.8,601.3 1131.0,599.9 1134.2,597.8 1137.4,596.1 1140.6,597.4 1143.8,597.4 1147.0,598.7 1149.9,599.8 1152.8,600.5 1155.7,601.3 1158.7,597.0 1161.7,593.5 1164.9,592.1 1168.1,592.4 1171.3,591.7 1174.3,589.6 1177.4,589.1 1179.1,583.9 1183.0,583.1 1187.0,582.2" fill="none" stroke="#0c0c24" stroke-width="6.5" stroke-linejoin="round" stroke-linecap="round"/>
<line x1="283.59999999999997" y1="169.1" x2="328.4" y2="169.1" stroke="rgba(52,211,153,0.5)" stroke-width="5" stroke-linecap="round"/><line x1="511.09999999999997" y1="169.1" x2="555.9" y2="169.1" stroke="rgba(52,211,153,0.5)" stroke-width="5" stroke-linecap="round"/><line x1="727.6" y1="169.1" x2="772.4" y2="169.1" stroke="rgba(52,211,153,0.5)" stroke-width="5" stroke-linecap="round"/><line x1="1023.6" y1="169.1" x2="1068.4" y2="169.1" stroke="rgba(246,101,133,0.6)" stroke-width="5" stroke-linecap="round"/><line x1="283.59999999999997" y1="204.3" x2="328.4" y2="204.3" stroke="rgba(52,211,153,0.5)" stroke-width="5" stroke-linecap="round"/><line x1="511.09999999999997" y1="204.3" x2="555.9" y2="204.3" stroke="rgba(52,211,153,0.5)" stroke-width="5" stroke-linecap="round"/><line x1="727.6" y1="204.3" x2="772.4" y2="204.3" stroke="rgba(52,211,153,0.5)" stroke-width="5" stroke-linecap="round"/><line x1="1023.6" y1="204.3" x2="1068.4" y2="204.3" stroke="rgba(246,101,133,0.6)" stroke-width="5" stroke-linecap="round"/><line x1="283.59999999999997" y1="239.5" x2="328.4" y2="239.5" stroke="rgba(52,211,153,0.5)" stroke-width="5" stroke-linecap="round"/><line x1="511.09999999999997" y1="239.5" x2="555.9" y2="239.5" stroke="rgba(52,211,153,0.5)" stroke-width="5" stroke-linecap="round"/><line x1="727.6" y1="239.5" x2="772.4" y2="239.5" stroke="rgba(52,211,153,0.5)" stroke-width="5" stroke-linecap="round"/><line x1="1023.6" y1="239.5" x2="1068.4" y2="239.5" stroke="rgba(246,101,133,0.6)" stroke-width="5" stroke-linecap="round"/><line x1="283.59999999999997" y1="274.7" x2="328.4" y2="274.7" stroke="rgba(52,211,153,0.5)" stroke-width="5" stroke-linecap="round"/><line x1="511.09999999999997" y1="274.7" x2="555.9" y2="274.7" stroke="#0c0c24" stroke-width="6" stroke-linecap="round"/><line x1="727.4" y1="274.7" x2="771.9" y2="274.7" stroke="#0c0c24" stroke-width="4.6" stroke-linecap="round" stroke-dasharray="10.4 18"/>
<text transform="translate(430.10,54.10) scale(0.9271,1)" x="-2.51" y="0" font-size="37.50" font-weight="bold" fill="#000">Bitcoin Yearly Cycles: All Years</text><text transform="translate(611.10,105.00) scale(0.9064,1)" x="-2.01" y="0" font-size="32.43" font-weight="normal" fill="#0f0f2a">(2011-2024)</text><text transform="translate(333.10,178.00) scale(0.7955,1)" x="-1.29" y="0" font-size="25.73" font-weight="normal" fill="#0f0f2a">2011</text><text transform="translate(559.80,178.00) scale(0.8839,1)" x="-1.29" y="0" font-size="25.73" font-weight="normal" fill="#0f0f2a">2012</text><text transform="translate(776.30,178.00) scale(0.8776,1)" x="-1.29" y="0" font-size="25.73" font-weight="normal" fill="#0f0f2a">2013</text><text transform="translate(1073.10,178.00) scale(0.9242,1)" x="-1.29" y="0" font-size="25.73" font-weight="normal" fill="#0f0f2a">2014</text><text transform="translate(333.10,213.20) scale(0.8823,1)" x="-1.29" y="0" font-size="25.73" font-weight="normal" fill="#0f0f2a">2015</text><text transform="translate(559.80,213.20) scale(0.9104,1)" x="-1.29" y="0" font-size="25.73" font-weight="normal" fill="#0f0f2a">2016</text><text transform="translate(776.30,213.20) scale(0.8674,1)" x="-1.29" y="0" font-size="25.73" font-weight="normal" fill="#0f0f2a">2017</text><text transform="translate(1073.10,213.20) scale(0.9194,1)" x="-1.29" y="0" font-size="25.73" font-weight="normal" fill="#0f0f2a">2018</text><text transform="translate(333.10,248.40) scale(0.8973,1)" x="-1.29" y="0" font-size="25.73" font-weight="normal" fill="#0f0f2a">2019</text><text transform="translate(559.80,248.40) scale(0.9921,1)" x="-1.29" y="0" font-size="25.73" font-weight="normal" fill="#0f0f2a">2020</text><text transform="translate(776.30,248.40) scale(0.8668,1)" x="-1.29" y="0" font-size="25.73" font-weight="normal" fill="#0f0f2a">2021</text><text transform="translate(1073.10,248.40) scale(0.9626,1)" x="-1.29" y="0" font-size="25.73" font-weight="normal" fill="#0f0f2a">2022</text><text transform="translate(333.10,283.60) scale(0.9415,1)" x="-1.29" y="0" font-size="25.73" font-weight="normal" fill="#0f0f2a">2023</text><text transform="translate(559.80,283.60) scale(0.9604,1)" x="-1.29" y="0" font-size="25.73" font-weight="normal" fill="#0f0f2a">2024</text><text transform="translate(778.00,283.60) scale(0.9510,1)" x="-2.11" y="0" font-size="25.73" font-weight="normal" fill="#0f0f2a">Breakeven Line (1)</text><text transform="translate(58.00,348.90) scale(0.9548,1)" x="-1.99" y="0" font-size="26.16" font-weight="normal" fill="#0f0f2a">100</text><text transform="translate(74.00,494.00) scale(0.8893,1)" x="-1.99" y="0" font-size="26.16" font-weight="normal" fill="#0f0f2a">10</text><text transform="translate(90.10,640.90) scale(0.4344,1)" x="-1.99" y="0" font-size="26.16" font-weight="normal" fill="#0f0f2a">1</text><text transform="translate(69.00,785.80) scale(0.7749,1)" x="-1.02" y="0" font-size="26.16" font-weight="normal" fill="#0f0f2a">0.1</text><text transform="translate(133.85,803.50) rotate(-90) scale(0.4958,1)" x="-1.96" y="0" font-size="25.73" font-weight="normal" fill="#0f0f2a">1</text><text transform="translate(170.59,814.70) rotate(-90) scale(0.7767,1)" x="-1.96" y="0" font-size="25.73" font-weight="normal" fill="#0f0f2a">12</text><text transform="translate(207.33,819.20) rotate(-90) scale(0.9239,1)" x="-1.29" y="0" font-size="25.73" font-weight="normal" fill="#0f0f2a">23</text><text transform="translate(244.07,819.20) rotate(-90) scale(0.9002,1)" x="-0.98" y="0" font-size="25.73" font-weight="normal" fill="#0f0f2a">34</text><text transform="translate(280.81,819.20) rotate(-90) scale(0.8981,1)" x="-0.59" y="0" font-size="25.73" font-weight="normal" fill="#0f0f2a">45</text><text transform="translate(317.55,820.30) rotate(-90) scale(0.9563,1)" x="-1.03" y="0" font-size="25.73" font-weight="normal" fill="#0f0f2a">56</text><text transform="translate(354.29,819.90) rotate(-90) scale(0.9571,1)" x="-1.31" y="0" font-size="25.73" font-weight="normal" fill="#0f0f2a">67</text><text transform="translate(391.03,819.90) rotate(-90) scale(0.9511,1)" x="-1.32" y="0" font-size="25.73" font-weight="normal" fill="#0f0f2a">78</text><text transform="translate(427.77,819.20) rotate(-90) scale(0.9209,1)" x="-1.12" y="0" font-size="25.73" font-weight="normal" fill="#0f0f2a">89</text><text transform="translate(464.51,834.90) rotate(-90) scale(0.9985,1)" x="-1.96" y="0" font-size="25.73" font-weight="normal" fill="#0f0f2a">100</text><text transform="translate(501.25,819.20) rotate(-90) scale(0.5339,1)" x="-1.96" y="0" font-size="25.73" font-weight="normal" fill="#0f0f2a">111</text><text transform="translate(537.99,827.80) rotate(-90) scale(0.8268,1)" x="-1.96" y="0" font-size="25.73" font-weight="normal" fill="#0f0f2a">122</text><text transform="translate(574.73,826.40) rotate(-90) scale(0.7883,1)" x="-1.96" y="0" font-size="25.73" font-weight="normal" fill="#0f0f2a">133</text><text transform="translate(611.47,830.00) rotate(-90) scale(0.8704,1)" x="-1.96" y="0" font-size="25.73" font-weight="normal" fill="#0f0f2a">144</text><text transform="translate(648.21,826.40) rotate(-90) scale(0.7873,1)" x="-1.96" y="0" font-size="25.73" font-weight="normal" fill="#0f0f2a">155</text><text transform="translate(684.95,831.60) rotate(-90) scale(0.9188,1)" x="-1.96" y="0" font-size="25.73" font-weight="normal" fill="#0f0f2a">166</text><text transform="translate(721.69,826.40) rotate(-90) scale(0.7915,1)" x="-1.96" y="0" font-size="25.73" font-weight="normal" fill="#0f0f2a">177</text><text transform="translate(758.43,828.20) rotate(-90) scale(0.8332,1)" x="-1.96" y="0" font-size="25.73" font-weight="normal" fill="#0f0f2a">188</text><text transform="translate(795.17,829.30) rotate(-90) scale(0.8630,1)" x="-1.96" y="0" font-size="25.73" font-weight="normal" fill="#0f0f2a">199</text><text transform="translate(831.91,830.90) rotate(-90) scale(0.8837,1)" x="-1.29" y="0" font-size="25.73" font-weight="normal" fill="#0f0f2a">210</text><text transform="translate(868.65,827.80) rotate(-90) scale(0.7381,1)" x="-1.29" y="0" font-size="25.73" font-weight="normal" fill="#0f0f2a">221</text><text transform="translate(905.39,832.70) rotate(-90) scale(0.9346,1)" x="-1.29" y="0" font-size="25.73" font-weight="normal" fill="#0f0f2a">232</text><text transform="translate(942.13,832.70) rotate(-90) scale(0.9309,1)" x="-1.29" y="0" font-size="25.73" font-weight="normal" fill="#0f0f2a">243</text><text transform="translate(978.87,833.80) rotate(-90) scale(0.9492,1)" x="-1.29" y="0" font-size="25.73" font-weight="normal" fill="#0f0f2a">254</text><text transform="translate(1015.61,833.80) rotate(-90) scale(0.9568,1)" x="-1.29" y="0" font-size="25.73" font-weight="normal" fill="#0f0f2a">265</text><text transform="translate(1052.35,833.80) rotate(-90) scale(0.9580,1)" x="-1.29" y="0" font-size="25.73" font-weight="normal" fill="#0f0f2a">276</text><text transform="translate(1089.09,832.70) rotate(-90) scale(0.9346,1)" x="-1.29" y="0" font-size="25.73" font-weight="normal" fill="#0f0f2a">287</text><text transform="translate(1125.83,833.80) rotate(-90) scale(0.9577,1)" x="-1.29" y="0" font-size="25.73" font-weight="normal" fill="#0f0f2a">298</text><text transform="translate(1162.57,834.90) rotate(-90) scale(0.9797,1)" x="-0.98" y="0" font-size="25.73" font-weight="normal" fill="#0f0f2a">309</text><text transform="translate(1199.31,834.90) rotate(-90) scale(0.9746,1)" x="-0.98" y="0" font-size="25.73" font-weight="normal" fill="#0f0f2a">320</text><text transform="translate(1236.05,827.10) rotate(-90) scale(0.7152,1)" x="-0.98" y="0" font-size="25.73" font-weight="normal" fill="#0f0f2a">331</text><text transform="translate(1272.79,833.30) rotate(-90) scale(0.9422,1)" x="-0.98" y="0" font-size="25.73" font-weight="normal" fill="#0f0f2a">342</text><text transform="translate(1309.53,830.40) rotate(-90) scale(0.8673,1)" x="-0.98" y="0" font-size="25.73" font-weight="normal" fill="#0f0f2a">353</text><text transform="translate(1346.27,834.50) rotate(-90) scale(0.9589,1)" x="-0.98" y="0" font-size="25.73" font-weight="normal" fill="#0f0f2a">364</text><text transform="translate(41.00,693.00) rotate(-90) scale(0.9303,1)" x="-1.77" y="0" font-size="26.45" font-weight="bold" fill="#0f0f2a">Performance Multiple (Log)</text><text transform="translate(462.80,880.80) scale(0.9446,1)" x="-1.72" y="0" font-size="25.73" font-weight="bold" fill="#0f0f2a">Number Of Days Since Start Of The Year</text>
<defs><filter id="sh" x="-20%" y="-20%" width="140%" height="140%"><feDropShadow dx="0.7" dy="0.9" stdDeviation="0.7" flood-color="#55555f" flood-opacity="0.75"/></filter></defs><g filter="url(#sh)"><text transform="translate(1197.50,895.00) scale(0.9187,1)" x="-2.09" y="0" font-size="26.60" font-weight="normal" fill="#ffffff">@ Aiman Malikk</text><g transform="translate(1177.9,885.2)" fill="#fff"><path d="M0,-13.8 L8.2,-5.6 L5.4,-2.8 L0,-8.2 L-5.4,-2.8 L-8.2,-5.6 Z"/><path d="M0,13.8 L8.2,5.6 L5.4,2.8 L0,8.2 L-5.4,2.8 L-8.2,5.6 Z"/><path d="M-13.6,0 L-10.9,-2.7 L-8.2,0 L-10.9,2.7 Z"/><path d="M13.6,0 L10.9,-2.7 L8.2,0 L10.9,2.7 Z"/><path d="M0,-2.8 L2.8,0 L0,2.8 L-2.8,0 Z"/></g></g>
</svg>
</body></html>
